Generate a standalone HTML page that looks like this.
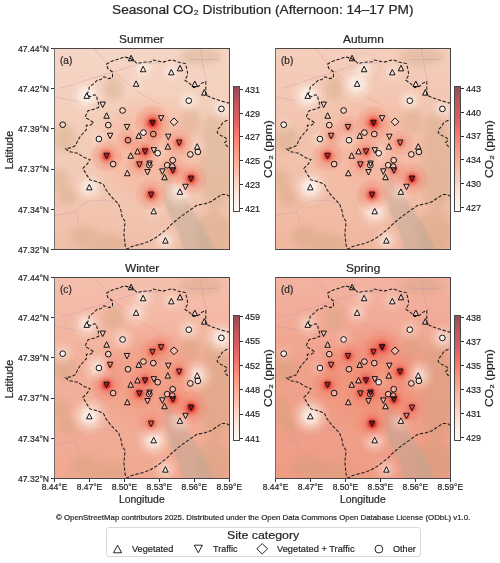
<!DOCTYPE html><html><head><meta charset="utf-8"><style>
html,body{margin:0;padding:0;background:#fff;}body{width:500px;height:563px;position:relative;overflow:hidden;font-family:"Liberation Sans", sans-serif;color:#262626;}
.t{position:absolute;white-space:nowrap;line-height:1;filter:grayscale(1);-webkit-text-stroke:0.2px #262626;}
.ax{position:absolute;width:176px;height:202px;box-sizing:border-box;border:1px solid #474747;border-left-color:#707070;overflow:hidden;}
.ax svg{display:block}
.cb{position:absolute;width:7px;height:126px;box-sizing:border-box;border:1px solid #4a4a4a;background:linear-gradient(to top,rgb(255,248,244) 0.0%,rgb(254,233,224) 12.5%,rgb(253,207,189) 25.0%,rgb(253,179,156) 37.5%,rgb(252,151,128) 50.0%,rgb(244,118,107) 62.5%,rgb(219,93,97) 75.0%,rgb(192,87,91) 87.5%,rgb(149,76,86) 100.0%);}
.tk{position:absolute;background:#333;}
</style></head><body>
<svg width="0" height="0" style="position:absolute"><defs><filter id="bl3" x="-50%" y="-50%" width="200%" height="200%"><feGaussianBlur stdDeviation="3"/></filter><filter id="bl1" x="-20%" y="-20%" width="140%" height="140%"><feGaussianBlur stdDeviation="1.2"/></filter><g id="mapl"><g filter="url(#bl3)" fill="rgb(200,160,120)" opacity="0.32"><ellipse cx="160.5" cy="116.6" rx="17.0" ry="45.0"/><ellipse cx="158.5" cy="183.6" rx="18.0" ry="22.0"/><ellipse cx="12.5" cy="147.6" rx="9.0" ry="9.0"/><ellipse cx="29.5" cy="187.6" rx="14.0" ry="11.0"/><ellipse cx="9.5" cy="89.6" rx="11.0" ry="14.0"/><ellipse cx="58.5" cy="39.6" rx="10.0" ry="12.0"/><ellipse cx="145.5" cy="7.6" rx="22.0" ry="9.0"/><ellipse cx="50.5" cy="193.6" rx="22.0" ry="9.0"/><ellipse cx="135.5" cy="71.6" rx="10.0" ry="14.0"/><ellipse cx="159.5" cy="79.6" rx="12.0" ry="16.0"/><ellipse cx="5.5" cy="131.6" rx="8.0" ry="12.0"/></g><g fill="none" stroke="rgb(196,150,175)" stroke-width="1" opacity="0.4" stroke-linejoin="round"><path d="M-0.5 166.5 L20.1 163.0 L25.3 157.0 L33.9 151.9 L51.1 151.0 L64.9 155.3"/><path d="M20.1 163.0 L22.7 169.1 L23.6 174.2"/><path d="M-0.5 47.8 L16.7 51.2 L33.9 54.7 L45.5 57.6"/><path d="M27.0 32.3 L56.3 23.7 L71.8 18.5 L85.5 15.1 L105.5 13.6"/><path d="M5.5 39.2 L23.5 34.4 L39.1 28.4"/><path d="M133.5 10.6 L163.5 10.6"/><path d="M145.5 -0.4 L148.5 19.1 L151.5 31.6"/></g><path d="M39.1 -0.4 L56.3 20.3 L71.8 34.0 L85.5 44.4 L105.5 55.6" fill="none" stroke="rgb(236,140,130)" stroke-width="0.9" opacity="0.45"/><path d="M106.5 117.6 L113.5 119.6 L117.5 129.6 L125.5 143.6 L135.5 157.6 L145.5 172.6 L153.5 187.6 L160.5 203.6 L128.5 203.6 L123.5 184.6 L116.5 170.6 L110.5 157.6 L108.5 143.6 L107.5 129.6 Z" fill="rgb(178,168,152)" opacity="0.4" filter="url(#bl1)"/></g><g id="bnd" fill="none" stroke="#1e1e1e" stroke-width="1.05" stroke-dasharray="3.4 1.7"><path d="M174.8 54.3 L166.5 52.1 L157.5 49.1 L150.8 46.1 L150.8 38.6 L150.8 32.6 L147.0 34.1 L144.0 37.1 L138.8 38.6 L135.0 34.8 L129.8 31.1 L132.8 25.9 L132.0 20.6 L130.5 14.6 L123.0 13.1 L117.0 10.8 L108.0 13.1 L100.5 11.6 L98.3 11.0 L95.9 12.8 L87.5 13.4 L82.1 14.6 L79.1 11.6 L74.9 9.2 L69.5 8.0 L62.3 10.4 L55.1 12.8 L51.5 15.2 L52.7 19.4 L57.5 23.0 L57.5 28.4 L53.9 29.6 L49.1 27.8 L45.5 30.8 L42.7 30.8 L39.1 34.4 L34.3 38.0 L33.7 41.6 L31.9 45.8 L35.5 47.6 L39.1 45.8 L41.5 46.4 L42.1 50.0 L43.3 53.6 L43.7 58.3 L39.8 60.0 L33.1 61.7 L30.9 66.2 L30.3 68.4 L33.1 70.1 L36.5 72.3 L38.7 74.0 L35.3 76.2 L31.4 76.2 L31.4 80.7 L29.2 83.0 L25.3 87.4 L22.5 91.9 L20.8 96.4 L16.3 98.6 L10.7 99.8 L14.1 102.6 L19.7 103.7 L22.6 104.3 L29.7 108.7 L35.0 110.5 L32.4 114.9 L27.9 119.4 L31.5 125.6 L35.0 130.9 L42.1 132.7 L48.4 135.3 L51.0 140.7 L56.4 147.8 L63.5 154.9 L66.1 162.0 L67.1 167.8 L70.1 172.6 L69.5 178.6 L68.9 184.6 L69.5 190.6 L70.1 196.6 L71.9 200.2 L76.1 197.8 L82.1 196.0 L89.3 194.2 L95.3 191.8 L101.3 188.2 L106.1 184.6 L112.1 179.8 L116.9 175.0 L122.7 170.0 L129.9 164.6 L135.9 160.4 L141.9 156.2 L149.1 155.0 L156.3 152.6 L162.3 148.4 L167.1 145.4 L171.3 145.4 L174.9 147.8 L177.5 149.6"/><path d="M177.5 70.1 L174.4 70.8 L170.7 71.9 L167.5 74.0 L165.4 77.7 L162.7 80.4 L162.2 83.6 L164.3 85.7 L167.5 87.3 L170.7 88.9 L172.3 91.1 L169.6 93.7 L171.2 96.4 L173.4 98.5 L175.0 99.6 L177.5 100.6"/></g><g id="mkf" stroke="none" fill="rgba(252,238,230,0.4)"><path d="M76.10 6.25 L73.35 11.75 L78.85 11.75 Z" fill="inherit"/><path d="M88.10 17.25 L85.35 22.75 L90.85 22.75 Z" fill="inherit"/><path d="M81.10 31.85 L78.35 37.35 L83.85 37.35 Z" fill="inherit"/><path d="M31.70 43.85 L28.95 49.35 L34.45 49.35 Z" fill="inherit"/><path d="M47.70 58.55 L44.95 53.05 L50.45 53.05 Z" fill="inherit"/><circle cx="67.60" cy="61.50" r="2.85" fill="inherit"/><path d="M51.60 63.75 L48.85 69.25 L54.35 69.25 Z" fill="inherit"/><circle cx="7.70" cy="75.70" r="2.85" fill="inherit"/><circle cx="53.30" cy="76.10" r="2.85" fill="inherit"/><path d="M72.00 80.95 L69.25 75.45 L74.75 75.45 Z" fill="inherit"/><circle cx="43.90" cy="90.00" r="2.85" fill="inherit"/><path d="M55.10 89.75 L52.35 84.25 L57.85 84.25 Z" fill="inherit"/><circle cx="73.00" cy="91.20" r="2.85" fill="inherit"/><path d="M83.70 83.85 L80.95 89.35 L86.45 89.35 Z" fill="inherit"/><circle cx="88.40" cy="83.60" r="2.85" fill="inherit"/><path d="M116.30 20.35 L113.55 25.85 L119.05 25.85 Z" fill="inherit"/><path d="M125.00 16.35 L122.25 21.85 L127.75 21.85 Z" fill="inherit"/><path d="M139.80 32.05 L137.05 37.55 L142.55 37.55 Z" fill="inherit"/><path d="M149.30 40.65 L146.55 46.15 L152.05 46.15 Z" fill="inherit"/><circle cx="133.80" cy="51.70" r="2.85" fill="inherit"/><circle cx="166.40" cy="59.90" r="2.85" fill="inherit"/><path d="M106.10 72.15 L103.35 66.65 L108.85 66.65 Z" fill="inherit"/><path d="M119.00 68.90 L122.90 72.80 L119.00 76.70 L115.10 72.80 Z" fill="inherit"/><path d="M97.50 76.75 L94.75 71.25 L100.25 71.25 Z" fill="inherit"/><circle cx="98.30" cy="85.10" r="2.85" fill="inherit"/><path d="M113.30 90.65 L110.55 85.15 L116.05 85.15 Z" fill="inherit"/><path d="M124.20 96.55 L121.45 91.05 L126.95 91.05 Z" fill="inherit"/><path d="M112.80 94.65 L110.05 100.15 L115.55 100.15 Z" fill="inherit"/><path d="M142.20 94.65 L139.45 100.15 L144.95 100.15 Z" fill="inherit"/><circle cx="142.90" cy="102.90" r="2.85" fill="inherit"/><circle cx="135.30" cy="105.40" r="2.85" fill="inherit"/><path d="M82.50 99.45 L79.75 104.95 L85.25 104.95 Z" fill="inherit"/><path d="M90.10 105.35 L87.35 99.85 L92.85 99.85 Z" fill="inherit"/><path d="M98.80 104.15 L96.05 98.65 L101.55 98.65 Z" fill="inherit"/><circle cx="102.70" cy="104.20" r="2.85" fill="inherit"/><path d="M75.70 103.75 L72.95 109.25 L78.45 109.25 Z" fill="inherit"/><circle cx="117.70" cy="111.20" r="2.85" fill="inherit"/><path d="M84.40 118.35 L81.65 112.85 L87.15 112.85 Z" fill="inherit"/><path d="M94.50 117.55 L91.75 112.05 L97.25 112.05 Z" fill="inherit"/><circle cx="94.30" cy="116.20" r="2.85" fill="inherit"/><circle cx="112.20" cy="116.20" r="2.85" fill="inherit"/><circle cx="117.20" cy="117.60" r="2.85" fill="inherit"/><path d="M117.90 124.25 L115.15 118.75 L120.65 118.75 Z" fill="inherit"/><path d="M72.30 121.25 L69.55 126.75 L75.05 126.75 Z" fill="inherit"/><path d="M92.50 126.05 L89.75 120.55 L95.25 120.55 Z" fill="inherit"/><path d="M107.30 125.35 L104.55 119.85 L110.05 119.85 Z" fill="inherit"/><path d="M109.50 125.25 L106.75 130.75 L112.25 130.75 Z" fill="inherit"/><path d="M51.60 109.75 L48.85 104.25 L54.35 104.25 Z" fill="inherit"/><circle cx="58.10" cy="115.10" r="2.85" fill="inherit"/><path d="M34.30 135.35 L31.55 140.85 L37.05 140.85 Z" fill="inherit"/><path d="M136.00 132.55 L133.25 127.05 L138.75 127.05 Z" fill="inherit"/><path d="M130.50 140.75 L127.75 135.25 L133.25 135.25 Z" fill="inherit"/><path d="M124.90 139.85 L122.15 145.35 L127.65 145.35 Z" fill="inherit"/><path d="M96.10 148.55 L93.35 143.05 L98.85 143.05 Z" fill="inherit"/><path d="M98.70 159.35 L95.95 164.85 L101.45 164.85 Z" fill="inherit"/><path d="M110.40 188.65 L107.65 194.15 L113.15 194.15 Z" fill="inherit"/></g><g id="mk" stroke="#111" stroke-width="1.0" stroke-linejoin="miter" fill="none"><path d="M76.10 6.25 L73.35 11.75 L78.85 11.75 Z" fill="none"/><path d="M88.10 17.25 L85.35 22.75 L90.85 22.75 Z" fill="none"/><path d="M81.10 31.85 L78.35 37.35 L83.85 37.35 Z" fill="none"/><path d="M31.70 43.85 L28.95 49.35 L34.45 49.35 Z" fill="none"/><path d="M47.70 58.55 L44.95 53.05 L50.45 53.05 Z" fill="none"/><circle cx="67.60" cy="61.50" r="2.85" fill="none"/><path d="M51.60 63.75 L48.85 69.25 L54.35 69.25 Z" fill="none"/><circle cx="7.70" cy="75.70" r="2.85" fill="none"/><circle cx="53.30" cy="76.10" r="2.85" fill="none"/><path d="M72.00 80.95 L69.25 75.45 L74.75 75.45 Z" fill="none"/><circle cx="43.90" cy="90.00" r="2.85" fill="none"/><path d="M55.10 89.75 L52.35 84.25 L57.85 84.25 Z" fill="none"/><circle cx="73.00" cy="91.20" r="2.85" fill="none"/><path d="M83.70 83.85 L80.95 89.35 L86.45 89.35 Z" fill="none"/><circle cx="88.40" cy="83.60" r="2.85" fill="none"/><path d="M116.30 20.35 L113.55 25.85 L119.05 25.85 Z" fill="none"/><path d="M125.00 16.35 L122.25 21.85 L127.75 21.85 Z" fill="none"/><path d="M139.80 32.05 L137.05 37.55 L142.55 37.55 Z" fill="none"/><path d="M149.30 40.65 L146.55 46.15 L152.05 46.15 Z" fill="none"/><circle cx="133.80" cy="51.70" r="2.85" fill="none"/><circle cx="166.40" cy="59.90" r="2.85" fill="none"/><path d="M106.10 72.15 L103.35 66.65 L108.85 66.65 Z" fill="none"/><path d="M119.00 68.90 L122.90 72.80 L119.00 76.70 L115.10 72.80 Z" fill="none"/><path d="M97.50 76.75 L94.75 71.25 L100.25 71.25 Z" fill="none"/><circle cx="98.30" cy="85.10" r="2.85" fill="none"/><path d="M113.30 90.65 L110.55 85.15 L116.05 85.15 Z" fill="none"/><path d="M124.20 96.55 L121.45 91.05 L126.95 91.05 Z" fill="none"/><path d="M112.80 94.65 L110.05 100.15 L115.55 100.15 Z" fill="none"/><path d="M142.20 94.65 L139.45 100.15 L144.95 100.15 Z" fill="none"/><circle cx="142.90" cy="102.90" r="2.85" fill="none"/><circle cx="135.30" cy="105.40" r="2.85" fill="none"/><path d="M82.50 99.45 L79.75 104.95 L85.25 104.95 Z" fill="none"/><path d="M90.10 105.35 L87.35 99.85 L92.85 99.85 Z" fill="none"/><path d="M98.80 104.15 L96.05 98.65 L101.55 98.65 Z" fill="none"/><circle cx="102.70" cy="104.20" r="2.85" fill="none"/><path d="M75.70 103.75 L72.95 109.25 L78.45 109.25 Z" fill="none"/><circle cx="117.70" cy="111.20" r="2.85" fill="none"/><path d="M84.40 118.35 L81.65 112.85 L87.15 112.85 Z" fill="none"/><path d="M94.50 117.55 L91.75 112.05 L97.25 112.05 Z" fill="none"/><circle cx="94.30" cy="116.20" r="2.85" fill="none"/><circle cx="112.20" cy="116.20" r="2.85" fill="none"/><circle cx="117.20" cy="117.60" r="2.85" fill="none"/><path d="M117.90 124.25 L115.15 118.75 L120.65 118.75 Z" fill="none"/><path d="M72.30 121.25 L69.55 126.75 L75.05 126.75 Z" fill="none"/><path d="M92.50 126.05 L89.75 120.55 L95.25 120.55 Z" fill="none"/><path d="M107.30 125.35 L104.55 119.85 L110.05 119.85 Z" fill="none"/><path d="M109.50 125.25 L106.75 130.75 L112.25 130.75 Z" fill="none"/><path d="M51.60 109.75 L48.85 104.25 L54.35 104.25 Z" fill="none"/><circle cx="58.10" cy="115.10" r="2.85" fill="none"/><path d="M34.30 135.35 L31.55 140.85 L37.05 140.85 Z" fill="none"/><path d="M136.00 132.55 L133.25 127.05 L138.75 127.05 Z" fill="none"/><path d="M130.50 140.75 L127.75 135.25 L133.25 135.25 Z" fill="none"/><path d="M124.90 139.85 L122.15 145.35 L127.65 145.35 Z" fill="none"/><path d="M96.10 148.55 L93.35 143.05 L98.85 143.05 Z" fill="none"/><path d="M98.70 159.35 L95.95 164.85 L101.45 164.85 Z" fill="none"/><path d="M110.40 188.65 L107.65 194.15 L113.15 194.15 Z" fill="none"/></g></defs></svg>
<div id="title" class="t" style="left:112.08px;top:4.00px;font-size:12.30px;transform:scaleX(1.114);transform-origin:0 0;">Seasonal CO₂ Distribution (Afternoon: 14–17 PM)</div>
<div class="ax" style="left:54px;top:48px"><svg width="174" height="200" viewBox="0 0 174 200" style="position:absolute;left:0;top:0"><defs><linearGradient id="vga" x1="0" y1="0" x2="0" y2="1"><stop offset="0" stop-color="#fff" stop-opacity="0.2"/><stop offset="0.45" stop-color="#fff" stop-opacity="0"/><stop offset="0.55" stop-color="rgb(235,135,105)" stop-opacity="0"/><stop offset="1" stop-color="rgb(235,135,105)" stop-opacity="0.2"/></linearGradient><radialGradient id="ctra"><stop offset="0" stop-color="rgb(246,178,152)" stop-opacity="0.9"/><stop offset="0.55" stop-color="rgb(246,178,152)" stop-opacity="0.55"/><stop offset="1" stop-color="rgb(246,178,152)" stop-opacity="0"/></radialGradient><radialGradient id="ca0"><stop offset="0" stop-color="#fffaf6" stop-opacity="0.95"/><stop offset="0.3" stop-color="#fcf0e8" stop-opacity="0.78"/><stop offset="0.6" stop-color="#f8e2d5" stop-opacity="0.42"/><stop offset="0.82" stop-color="#f6d8c8" stop-opacity="0.15"/><stop offset="1" stop-color="#f5d0bd" stop-opacity="0"/></radialGradient><radialGradient id="ca1"><stop offset="0" stop-color="#fffaf6" stop-opacity="0.82"/><stop offset="0.3" stop-color="#fcf0e8" stop-opacity="0.62"/><stop offset="0.6" stop-color="#f8e2d5" stop-opacity="0.34"/><stop offset="0.82" stop-color="#f6d8c8" stop-opacity="0.12"/><stop offset="1" stop-color="#f5d0bd" stop-opacity="0"/></radialGradient><radialGradient id="ca2"><stop offset="0" stop-color="#fffaf6" stop-opacity="0.82"/><stop offset="0.3" stop-color="#fcf0e8" stop-opacity="0.62"/><stop offset="0.6" stop-color="#f8e2d5" stop-opacity="0.34"/><stop offset="0.82" stop-color="#f6d8c8" stop-opacity="0.12"/><stop offset="1" stop-color="#f5d0bd" stop-opacity="0"/></radialGradient><radialGradient id="ca3"><stop offset="0" stop-color="#fffaf6" stop-opacity="0.69"/><stop offset="0.3" stop-color="#fcf0e8" stop-opacity="0.47"/><stop offset="0.6" stop-color="#f8e2d5" stop-opacity="0.25"/><stop offset="0.82" stop-color="#f6d8c8" stop-opacity="0.09"/><stop offset="1" stop-color="#f5d0bd" stop-opacity="0"/></radialGradient><radialGradient id="ca4"><stop offset="0" stop-color="#fffaf6" stop-opacity="0.69"/><stop offset="0.3" stop-color="#fcf0e8" stop-opacity="0.47"/><stop offset="0.6" stop-color="#f8e2d5" stop-opacity="0.25"/><stop offset="0.82" stop-color="#f6d8c8" stop-opacity="0.09"/><stop offset="1" stop-color="#f5d0bd" stop-opacity="0"/></radialGradient><radialGradient id="ca5"><stop offset="0" stop-color="#fffaf6" stop-opacity="0.69"/><stop offset="0.3" stop-color="#fcf0e8" stop-opacity="0.47"/><stop offset="0.6" stop-color="#f8e2d5" stop-opacity="0.25"/><stop offset="0.82" stop-color="#f6d8c8" stop-opacity="0.09"/><stop offset="1" stop-color="#f5d0bd" stop-opacity="0"/></radialGradient><radialGradient id="ca6"><stop offset="0" stop-color="#fffaf6" stop-opacity="0.62"/><stop offset="0.3" stop-color="#fcf0e8" stop-opacity="0.39"/><stop offset="0.6" stop-color="#f8e2d5" stop-opacity="0.21"/><stop offset="0.82" stop-color="#f6d8c8" stop-opacity="0.07"/><stop offset="1" stop-color="#f5d0bd" stop-opacity="0"/></radialGradient><radialGradient id="ca7"><stop offset="0" stop-color="#fffaf6" stop-opacity="0.69"/><stop offset="0.3" stop-color="#fcf0e8" stop-opacity="0.47"/><stop offset="0.6" stop-color="#f8e2d5" stop-opacity="0.25"/><stop offset="0.82" stop-color="#f6d8c8" stop-opacity="0.09"/><stop offset="1" stop-color="#f5d0bd" stop-opacity="0"/></radialGradient><radialGradient id="ca8"><stop offset="0" stop-color="#fffaf6" stop-opacity="0.56"/><stop offset="0.3" stop-color="#fcf0e8" stop-opacity="0.31"/><stop offset="0.6" stop-color="#f8e2d5" stop-opacity="0.17"/><stop offset="0.82" stop-color="#f6d8c8" stop-opacity="0.06"/><stop offset="1" stop-color="#f5d0bd" stop-opacity="0"/></radialGradient><radialGradient id="ca9"><stop offset="0" stop-color="#fffaf6" stop-opacity="0.53"/><stop offset="0.3" stop-color="#fcf0e8" stop-opacity="0.27"/><stop offset="0.6" stop-color="#f8e2d5" stop-opacity="0.15"/><stop offset="0.82" stop-color="#f6d8c8" stop-opacity="0.05"/><stop offset="1" stop-color="#f5d0bd" stop-opacity="0"/></radialGradient><radialGradient id="ca10"><stop offset="0" stop-color="#fffaf6" stop-opacity="0.53"/><stop offset="0.3" stop-color="#fcf0e8" stop-opacity="0.27"/><stop offset="0.6" stop-color="#f8e2d5" stop-opacity="0.15"/><stop offset="0.82" stop-color="#f6d8c8" stop-opacity="0.05"/><stop offset="1" stop-color="#f5d0bd" stop-opacity="0"/></radialGradient><radialGradient id="ca11"><stop offset="0" stop-color="#fffaf6" stop-opacity="0.53"/><stop offset="0.3" stop-color="#fcf0e8" stop-opacity="0.27"/><stop offset="0.6" stop-color="#f8e2d5" stop-opacity="0.15"/><stop offset="0.82" stop-color="#f6d8c8" stop-opacity="0.05"/><stop offset="1" stop-color="#f5d0bd" stop-opacity="0"/></radialGradient><radialGradient id="ca12"><stop offset="0" stop-color="#fffaf6" stop-opacity="0.49"/><stop offset="0.3" stop-color="#fcf0e8" stop-opacity="0.23"/><stop offset="0.6" stop-color="#f8e2d5" stop-opacity="0.13"/><stop offset="0.82" stop-color="#f6d8c8" stop-opacity="0.04"/><stop offset="1" stop-color="#f5d0bd" stop-opacity="0"/></radialGradient><radialGradient id="ca13"><stop offset="0" stop-color="#fffaf6" stop-opacity="0.49"/><stop offset="0.3" stop-color="#fcf0e8" stop-opacity="0.23"/><stop offset="0.6" stop-color="#f8e2d5" stop-opacity="0.13"/><stop offset="0.82" stop-color="#f6d8c8" stop-opacity="0.04"/><stop offset="1" stop-color="#f5d0bd" stop-opacity="0"/></radialGradient><radialGradient id="ha0h"><stop offset="0" stop-color="rgb(238,105,85)" stop-opacity="0.67"/><stop offset="0.5" stop-color="rgb(240,125,105)" stop-opacity="0.41"/><stop offset="0.8" stop-color="rgb(242,140,118)" stop-opacity="0.17"/><stop offset="1" stop-color="rgb(242,150,128)" stop-opacity="0"/></radialGradient><radialGradient id="ha0"><stop offset="0" stop-color="rgb(160,10,20)" stop-opacity="1"/><stop offset="0.3" stop-color="rgb(222,42,38)" stop-opacity="1.00"/><stop offset="0.6" stop-color="rgb(238,100,80)" stop-opacity="0.50"/><stop offset="1" stop-color="rgb(240,125,105)" stop-opacity="0"/></radialGradient><radialGradient id="ha1h"><stop offset="0" stop-color="rgb(238,105,85)" stop-opacity="0.53"/><stop offset="0.5" stop-color="rgb(240,125,105)" stop-opacity="0.32"/><stop offset="0.8" stop-color="rgb(242,140,118)" stop-opacity="0.14"/><stop offset="1" stop-color="rgb(242,150,128)" stop-opacity="0"/></radialGradient><radialGradient id="ha1"><stop offset="0" stop-color="rgb(178,26,30)" stop-opacity="1"/><stop offset="0.3" stop-color="rgb(226,55,47)" stop-opacity="0.91"/><stop offset="0.6" stop-color="rgb(238,100,80)" stop-opacity="0.42"/><stop offset="1" stop-color="rgb(240,125,105)" stop-opacity="0"/></radialGradient><radialGradient id="ha2h"><stop offset="0" stop-color="rgb(238,105,85)" stop-opacity="0.51"/><stop offset="0.5" stop-color="rgb(240,125,105)" stop-opacity="0.30"/><stop offset="0.8" stop-color="rgb(242,140,118)" stop-opacity="0.13"/><stop offset="1" stop-color="rgb(242,150,128)" stop-opacity="0"/></radialGradient><radialGradient id="ha2"><stop offset="0" stop-color="rgb(182,30,32)" stop-opacity="1"/><stop offset="0.3" stop-color="rgb(227,58,49)" stop-opacity="0.90"/><stop offset="0.6" stop-color="rgb(238,100,80)" stop-opacity="0.41"/><stop offset="1" stop-color="rgb(240,125,105)" stop-opacity="0"/></radialGradient><radialGradient id="ha3h"><stop offset="0" stop-color="rgb(238,105,85)" stop-opacity="0.56"/><stop offset="0.5" stop-color="rgb(240,125,105)" stop-opacity="0.34"/><stop offset="0.8" stop-color="rgb(242,140,118)" stop-opacity="0.14"/><stop offset="1" stop-color="rgb(242,150,128)" stop-opacity="0"/></radialGradient><radialGradient id="ha3"><stop offset="0" stop-color="rgb(175,23,28)" stop-opacity="1"/><stop offset="0.3" stop-color="rgb(225,53,45)" stop-opacity="0.93"/><stop offset="0.6" stop-color="rgb(238,100,80)" stop-opacity="0.44"/><stop offset="1" stop-color="rgb(240,125,105)" stop-opacity="0"/></radialGradient><radialGradient id="ha4h"><stop offset="0" stop-color="rgb(238,105,85)" stop-opacity="0.51"/><stop offset="0.5" stop-color="rgb(240,125,105)" stop-opacity="0.30"/><stop offset="0.8" stop-color="rgb(242,140,118)" stop-opacity="0.13"/><stop offset="1" stop-color="rgb(242,150,128)" stop-opacity="0"/></radialGradient><radialGradient id="ha4"><stop offset="0" stop-color="rgb(182,30,32)" stop-opacity="1"/><stop offset="0.3" stop-color="rgb(227,58,49)" stop-opacity="0.90"/><stop offset="0.6" stop-color="rgb(238,100,80)" stop-opacity="0.41"/><stop offset="1" stop-color="rgb(240,125,105)" stop-opacity="0"/></radialGradient><radialGradient id="ha5h"><stop offset="0" stop-color="rgb(238,105,85)" stop-opacity="0.40"/><stop offset="0.5" stop-color="rgb(240,125,105)" stop-opacity="0.23"/><stop offset="0.8" stop-color="rgb(242,140,118)" stop-opacity="0.10"/><stop offset="1" stop-color="rgb(242,150,128)" stop-opacity="0"/></radialGradient><radialGradient id="ha5"><stop offset="0" stop-color="rgb(197,42,40)" stop-opacity="1"/><stop offset="0.3" stop-color="rgb(230,68,56)" stop-opacity="0.82"/><stop offset="0.6" stop-color="rgb(238,100,80)" stop-opacity="0.35"/><stop offset="1" stop-color="rgb(240,125,105)" stop-opacity="0"/></radialGradient><radialGradient id="ha6h"><stop offset="0" stop-color="rgb(238,105,85)" stop-opacity="0.40"/><stop offset="0.5" stop-color="rgb(240,125,105)" stop-opacity="0.23"/><stop offset="0.8" stop-color="rgb(242,140,118)" stop-opacity="0.10"/><stop offset="1" stop-color="rgb(242,150,128)" stop-opacity="0"/></radialGradient><radialGradient id="ha6"><stop offset="0" stop-color="rgb(197,42,40)" stop-opacity="1"/><stop offset="0.3" stop-color="rgb(230,68,56)" stop-opacity="0.82"/><stop offset="0.6" stop-color="rgb(238,100,80)" stop-opacity="0.35"/><stop offset="1" stop-color="rgb(240,125,105)" stop-opacity="0"/></radialGradient><radialGradient id="ha7h"><stop offset="0" stop-color="rgb(238,105,85)" stop-opacity="0.31"/><stop offset="0.5" stop-color="rgb(240,125,105)" stop-opacity="0.18"/><stop offset="0.8" stop-color="rgb(242,140,118)" stop-opacity="0.08"/><stop offset="1" stop-color="rgb(242,150,128)" stop-opacity="0"/></radialGradient><radialGradient id="ha7"><stop offset="0" stop-color="rgb(208,52,46)" stop-opacity="1"/><stop offset="0.3" stop-color="rgb(232,76,62)" stop-opacity="0.77"/><stop offset="0.6" stop-color="rgb(238,100,80)" stop-opacity="0.30"/><stop offset="1" stop-color="rgb(240,125,105)" stop-opacity="0"/></radialGradient><radialGradient id="ha8h"><stop offset="0" stop-color="rgb(238,105,85)" stop-opacity="0.23"/><stop offset="0.5" stop-color="rgb(240,125,105)" stop-opacity="0.13"/><stop offset="0.8" stop-color="rgb(242,140,118)" stop-opacity="0.06"/><stop offset="1" stop-color="rgb(242,150,128)" stop-opacity="0"/></radialGradient><radialGradient id="ha8"><stop offset="0" stop-color="rgb(219,62,52)" stop-opacity="1"/><stop offset="0.3" stop-color="rgb(235,84,68)" stop-opacity="0.72"/><stop offset="0.6" stop-color="rgb(238,100,80)" stop-opacity="0.26"/><stop offset="1" stop-color="rgb(240,125,105)" stop-opacity="0"/></radialGradient><radialGradient id="ha9h"><stop offset="0" stop-color="rgb(238,105,85)" stop-opacity="0.19"/><stop offset="0.5" stop-color="rgb(240,125,105)" stop-opacity="0.10"/><stop offset="0.8" stop-color="rgb(242,140,118)" stop-opacity="0.05"/><stop offset="1" stop-color="rgb(242,150,128)" stop-opacity="0"/></radialGradient><radialGradient id="ha9"><stop offset="0" stop-color="rgb(225,67,55)" stop-opacity="1"/><stop offset="0.3" stop-color="rgb(236,89,71)" stop-opacity="0.69"/><stop offset="0.6" stop-color="rgb(238,100,80)" stop-opacity="0.24"/><stop offset="1" stop-color="rgb(240,125,105)" stop-opacity="0"/></radialGradient></defs><rect x="-2" y="-2" width="180" height="205" fill="rgb(243,204,184)"/><rect x="-2" y="-2" width="180" height="205" fill="url(#vga)"/><use href="#mapl"/><ellipse cx="95.5" cy="101.6" rx="62" ry="58" fill="url(#ctra)"/><circle cx="31.7" cy="46.6" r="21.0" fill="url(#ca0)"/><circle cx="31.7" cy="46.6" r="11.6" fill="none" stroke="rgb(238,160,140)" stroke-width="0.5" stroke-opacity="0.25"/><circle cx="31.7" cy="46.6" r="15.8" fill="none" stroke="rgb(238,160,140)" stroke-width="0.5" stroke-opacity="0.25"/><circle cx="31.7" cy="46.6" r="19.9" fill="none" stroke="rgb(238,160,140)" stroke-width="0.5" stroke-opacity="0.25"/><circle cx="34.3" cy="138.1" r="18.8" fill="url(#ca1)"/><circle cx="34.3" cy="138.1" r="10.3" fill="none" stroke="rgb(238,160,140)" stroke-width="0.5" stroke-opacity="0.22"/><circle cx="34.3" cy="138.1" r="14.1" fill="none" stroke="rgb(238,160,140)" stroke-width="0.5" stroke-opacity="0.22"/><circle cx="34.3" cy="138.1" r="17.9" fill="none" stroke="rgb(238,160,140)" stroke-width="0.5" stroke-opacity="0.22"/><circle cx="124.9" cy="142.6" r="18.8" fill="url(#ca2)"/><circle cx="124.9" cy="142.6" r="10.3" fill="none" stroke="rgb(238,160,140)" stroke-width="0.5" stroke-opacity="0.22"/><circle cx="124.9" cy="142.6" r="14.1" fill="none" stroke="rgb(238,160,140)" stroke-width="0.5" stroke-opacity="0.22"/><circle cx="124.9" cy="142.6" r="17.9" fill="none" stroke="rgb(238,160,140)" stroke-width="0.5" stroke-opacity="0.22"/><circle cx="133.8" cy="51.7" r="16.6" fill="url(#ca3)"/><circle cx="133.8" cy="51.7" r="9.1" fill="none" stroke="rgb(238,160,140)" stroke-width="0.5" stroke-opacity="0.19"/><circle cx="133.8" cy="51.7" r="12.5" fill="none" stroke="rgb(238,160,140)" stroke-width="0.5" stroke-opacity="0.19"/><circle cx="133.8" cy="51.7" r="15.8" fill="none" stroke="rgb(238,160,140)" stroke-width="0.5" stroke-opacity="0.19"/><circle cx="166.4" cy="59.9" r="16.6" fill="url(#ca4)"/><circle cx="166.4" cy="59.9" r="9.1" fill="none" stroke="rgb(238,160,140)" stroke-width="0.5" stroke-opacity="0.19"/><circle cx="166.4" cy="59.9" r="12.5" fill="none" stroke="rgb(238,160,140)" stroke-width="0.5" stroke-opacity="0.19"/><circle cx="166.4" cy="59.9" r="15.8" fill="none" stroke="rgb(238,160,140)" stroke-width="0.5" stroke-opacity="0.19"/><circle cx="88.1" cy="20.0" r="16.6" fill="url(#ca5)"/><circle cx="88.1" cy="20.0" r="9.1" fill="none" stroke="rgb(238,160,140)" stroke-width="0.5" stroke-opacity="0.19"/><circle cx="88.1" cy="20.0" r="12.5" fill="none" stroke="rgb(238,160,140)" stroke-width="0.5" stroke-opacity="0.19"/><circle cx="88.1" cy="20.0" r="15.8" fill="none" stroke="rgb(238,160,140)" stroke-width="0.5" stroke-opacity="0.19"/><circle cx="116.3" cy="23.1" r="15.5" fill="url(#ca6)"/><circle cx="116.3" cy="23.1" r="8.5" fill="none" stroke="rgb(238,160,140)" stroke-width="0.5" stroke-opacity="0.17"/><circle cx="116.3" cy="23.1" r="11.6" fill="none" stroke="rgb(238,160,140)" stroke-width="0.5" stroke-opacity="0.17"/><circle cx="116.3" cy="23.1" r="14.7" fill="none" stroke="rgb(238,160,140)" stroke-width="0.5" stroke-opacity="0.17"/><circle cx="110.4" cy="191.4" r="16.6" fill="url(#ca7)"/><circle cx="110.4" cy="191.4" r="9.1" fill="none" stroke="rgb(238,160,140)" stroke-width="0.5" stroke-opacity="0.19"/><circle cx="110.4" cy="191.4" r="12.5" fill="none" stroke="rgb(238,160,140)" stroke-width="0.5" stroke-opacity="0.19"/><circle cx="110.4" cy="191.4" r="15.8" fill="none" stroke="rgb(238,160,140)" stroke-width="0.5" stroke-opacity="0.19"/><circle cx="102.7" cy="104.2" r="14.4" fill="url(#ca8)"/><circle cx="102.7" cy="104.2" r="7.9" fill="none" stroke="rgb(238,160,140)" stroke-width="0.5" stroke-opacity="0.16"/><circle cx="102.7" cy="104.2" r="10.8" fill="none" stroke="rgb(238,160,140)" stroke-width="0.5" stroke-opacity="0.16"/><circle cx="102.7" cy="104.2" r="13.7" fill="none" stroke="rgb(238,160,140)" stroke-width="0.5" stroke-opacity="0.16"/><circle cx="88.4" cy="83.6" r="13.8" fill="url(#ca9)"/><circle cx="43.9" cy="90.0" r="13.8" fill="url(#ca10)"/><circle cx="142.2" cy="97.4" r="13.8" fill="url(#ca11)"/><circle cx="81.1" cy="34.6" r="13.3" fill="url(#ca12)"/><circle cx="98.7" cy="162.1" r="13.3" fill="url(#ca13)"/><circle cx="97.5" cy="74.0" r="19.0" fill="url(#ha0h)"/><circle cx="97.5" cy="74.0" r="6.5" fill="none" stroke="rgb(236,115,100)" stroke-width="0.55" stroke-opacity="0.37"/><circle cx="97.5" cy="74.0" r="8.9" fill="none" stroke="rgb(236,115,100)" stroke-width="0.55" stroke-opacity="0.37"/><circle cx="97.5" cy="74.0" r="11.4" fill="none" stroke="rgb(236,115,100)" stroke-width="0.55" stroke-opacity="0.37"/><circle cx="97.5" cy="74.0" r="13.9" fill="none" stroke="rgb(236,115,100)" stroke-width="0.55" stroke-opacity="0.37"/><circle cx="97.5" cy="74.0" r="16.3" fill="none" stroke="rgb(236,115,100)" stroke-width="0.55" stroke-opacity="0.37"/><circle cx="97.5" cy="74.0" r="10.5" fill="url(#ha0)"/><circle cx="51.6" cy="107.0" r="17.0" fill="url(#ha1h)"/><circle cx="51.6" cy="107.0" r="5.8" fill="none" stroke="rgb(236,115,100)" stroke-width="0.55" stroke-opacity="0.31"/><circle cx="51.6" cy="107.0" r="8.0" fill="none" stroke="rgb(236,115,100)" stroke-width="0.55" stroke-opacity="0.31"/><circle cx="51.6" cy="107.0" r="10.2" fill="none" stroke="rgb(236,115,100)" stroke-width="0.55" stroke-opacity="0.31"/><circle cx="51.6" cy="107.0" r="12.4" fill="none" stroke="rgb(236,115,100)" stroke-width="0.55" stroke-opacity="0.31"/><circle cx="51.6" cy="107.0" r="14.6" fill="none" stroke="rgb(236,115,100)" stroke-width="0.55" stroke-opacity="0.31"/><circle cx="51.6" cy="107.0" r="9.1" fill="url(#ha1)"/><circle cx="90.1" cy="102.6" r="16.6" fill="url(#ha2h)"/><circle cx="90.1" cy="102.6" r="5.6" fill="none" stroke="rgb(236,115,100)" stroke-width="0.55" stroke-opacity="0.29"/><circle cx="90.1" cy="102.6" r="7.8" fill="none" stroke="rgb(236,115,100)" stroke-width="0.55" stroke-opacity="0.29"/><circle cx="90.1" cy="102.6" r="10.0" fill="none" stroke="rgb(236,115,100)" stroke-width="0.55" stroke-opacity="0.29"/><circle cx="90.1" cy="102.6" r="12.1" fill="none" stroke="rgb(236,115,100)" stroke-width="0.55" stroke-opacity="0.29"/><circle cx="90.1" cy="102.6" r="14.3" fill="none" stroke="rgb(236,115,100)" stroke-width="0.55" stroke-opacity="0.29"/><circle cx="90.1" cy="102.6" r="8.8" fill="url(#ha2)"/><circle cx="136.0" cy="129.8" r="17.4" fill="url(#ha3h)"/><circle cx="136.0" cy="129.8" r="5.9" fill="none" stroke="rgb(236,115,100)" stroke-width="0.55" stroke-opacity="0.32"/><circle cx="136.0" cy="129.8" r="8.2" fill="none" stroke="rgb(236,115,100)" stroke-width="0.55" stroke-opacity="0.32"/><circle cx="136.0" cy="129.8" r="10.4" fill="none" stroke="rgb(236,115,100)" stroke-width="0.55" stroke-opacity="0.32"/><circle cx="136.0" cy="129.8" r="12.7" fill="none" stroke="rgb(236,115,100)" stroke-width="0.55" stroke-opacity="0.32"/><circle cx="136.0" cy="129.8" r="15.0" fill="none" stroke="rgb(236,115,100)" stroke-width="0.55" stroke-opacity="0.32"/><circle cx="136.0" cy="129.8" r="9.4" fill="url(#ha3)"/><circle cx="96.1" cy="145.8" r="16.6" fill="url(#ha4h)"/><circle cx="96.1" cy="145.8" r="5.6" fill="none" stroke="rgb(236,115,100)" stroke-width="0.55" stroke-opacity="0.29"/><circle cx="96.1" cy="145.8" r="7.8" fill="none" stroke="rgb(236,115,100)" stroke-width="0.55" stroke-opacity="0.29"/><circle cx="96.1" cy="145.8" r="10.0" fill="none" stroke="rgb(236,115,100)" stroke-width="0.55" stroke-opacity="0.29"/><circle cx="96.1" cy="145.8" r="12.1" fill="none" stroke="rgb(236,115,100)" stroke-width="0.55" stroke-opacity="0.29"/><circle cx="96.1" cy="145.8" r="14.3" fill="none" stroke="rgb(236,115,100)" stroke-width="0.55" stroke-opacity="0.29"/><circle cx="96.1" cy="145.8" r="8.8" fill="url(#ha4)"/><circle cx="124.2" cy="93.8" r="15.0" fill="url(#ha5h)"/><circle cx="124.2" cy="93.8" r="5.1" fill="none" stroke="rgb(236,115,100)" stroke-width="0.55" stroke-opacity="0.24"/><circle cx="124.2" cy="93.8" r="7.0" fill="none" stroke="rgb(236,115,100)" stroke-width="0.55" stroke-opacity="0.24"/><circle cx="124.2" cy="93.8" r="9.0" fill="none" stroke="rgb(236,115,100)" stroke-width="0.55" stroke-opacity="0.24"/><circle cx="124.2" cy="93.8" r="10.9" fill="none" stroke="rgb(236,115,100)" stroke-width="0.55" stroke-opacity="0.24"/><circle cx="124.2" cy="93.8" r="12.9" fill="none" stroke="rgb(236,115,100)" stroke-width="0.55" stroke-opacity="0.24"/><circle cx="124.2" cy="93.8" r="7.8" fill="url(#ha5)"/><circle cx="117.9" cy="121.5" r="15.0" fill="url(#ha6h)"/><circle cx="117.9" cy="121.5" r="5.1" fill="none" stroke="rgb(236,115,100)" stroke-width="0.55" stroke-opacity="0.24"/><circle cx="117.9" cy="121.5" r="7.0" fill="none" stroke="rgb(236,115,100)" stroke-width="0.55" stroke-opacity="0.24"/><circle cx="117.9" cy="121.5" r="9.0" fill="none" stroke="rgb(236,115,100)" stroke-width="0.55" stroke-opacity="0.24"/><circle cx="117.9" cy="121.5" r="10.9" fill="none" stroke="rgb(236,115,100)" stroke-width="0.55" stroke-opacity="0.24"/><circle cx="117.9" cy="121.5" r="12.9" fill="none" stroke="rgb(236,115,100)" stroke-width="0.55" stroke-opacity="0.24"/><circle cx="117.9" cy="121.5" r="7.8" fill="url(#ha6)"/><circle cx="84.4" cy="115.6" r="13.8" fill="url(#ha7h)"/><circle cx="84.4" cy="115.6" r="4.7" fill="none" stroke="rgb(236,115,100)" stroke-width="0.55" stroke-opacity="0.21"/><circle cx="84.4" cy="115.6" r="6.5" fill="none" stroke="rgb(236,115,100)" stroke-width="0.55" stroke-opacity="0.21"/><circle cx="84.4" cy="115.6" r="8.3" fill="none" stroke="rgb(236,115,100)" stroke-width="0.55" stroke-opacity="0.21"/><circle cx="84.4" cy="115.6" r="10.1" fill="none" stroke="rgb(236,115,100)" stroke-width="0.55" stroke-opacity="0.21"/><circle cx="84.4" cy="115.6" r="11.9" fill="none" stroke="rgb(236,115,100)" stroke-width="0.55" stroke-opacity="0.21"/><circle cx="84.4" cy="115.6" r="6.9" fill="url(#ha7)"/><circle cx="73.0" cy="91.2" r="12.6" fill="url(#ha8h)"/><circle cx="73.0" cy="91.2" r="4.3" fill="none" stroke="rgb(236,115,100)" stroke-width="0.55" stroke-opacity="0.17"/><circle cx="73.0" cy="91.2" r="5.9" fill="none" stroke="rgb(236,115,100)" stroke-width="0.55" stroke-opacity="0.17"/><circle cx="73.0" cy="91.2" r="7.6" fill="none" stroke="rgb(236,115,100)" stroke-width="0.55" stroke-opacity="0.17"/><circle cx="73.0" cy="91.2" r="9.2" fill="none" stroke="rgb(236,115,100)" stroke-width="0.55" stroke-opacity="0.17"/><circle cx="73.0" cy="91.2" r="10.8" fill="none" stroke="rgb(236,115,100)" stroke-width="0.55" stroke-opacity="0.17"/><circle cx="73.0" cy="91.2" r="6.1" fill="url(#ha8)"/><circle cx="98.3" cy="85.1" r="12.0" fill="url(#ha9h)"/><circle cx="98.3" cy="85.1" r="4.1" fill="none" stroke="rgb(236,115,100)" stroke-width="0.55" stroke-opacity="0.15"/><circle cx="98.3" cy="85.1" r="5.6" fill="none" stroke="rgb(236,115,100)" stroke-width="0.55" stroke-opacity="0.15"/><circle cx="98.3" cy="85.1" r="7.2" fill="none" stroke="rgb(236,115,100)" stroke-width="0.55" stroke-opacity="0.15"/><circle cx="98.3" cy="85.1" r="8.7" fill="none" stroke="rgb(236,115,100)" stroke-width="0.55" stroke-opacity="0.15"/><circle cx="98.3" cy="85.1" r="10.3" fill="none" stroke="rgb(236,115,100)" stroke-width="0.55" stroke-opacity="0.15"/><circle cx="98.3" cy="85.1" r="5.7" fill="url(#ha9)"/><use href="#mkf"/><path stroke="none" d="M97.50 76.75 L94.75 71.25 L100.25 71.25 Z" fill="rgb(130,15,25)"/><path stroke="none" d="M51.60 109.75 L48.85 104.25 L54.35 104.25 Z" fill="rgb(183,34,38)"/><path stroke="none" d="M90.10 105.35 L87.35 99.85 L92.85 99.85 Z" fill="rgb(194,38,40)"/><path stroke="none" d="M136.00 132.55 L133.25 127.05 L138.75 127.05 Z" fill="rgb(172,30,35)"/><path stroke="none" d="M96.10 148.55 L93.35 143.05 L98.85 143.05 Z" fill="rgb(194,38,40)"/><path stroke="none" d="M124.20 96.55 L121.45 91.05 L126.95 91.05 Z" fill="rgb(223,77,69)"/><path stroke="none" d="M117.90 124.25 L115.15 118.75 L120.65 118.75 Z" fill="rgb(223,77,69)"/><path stroke="none" d="M84.40 118.35 L81.65 112.85 L87.15 112.85 Z" fill="rgb(231,114,98)"/><circle stroke="none" cx="73.00" cy="91.20" r="2.85" fill="rgb(237,138,116)"/><circle stroke="none" cx="98.30" cy="85.10" r="2.85" fill="rgb(239,146,122)"/><path stroke="none" d="M31.70 43.85 L28.95 49.35 L34.45 49.35 Z" fill="rgb(255,252,250)"/><path stroke="none" d="M34.30 135.35 L31.55 140.85 L37.05 140.85 Z" fill="rgb(254,247,242)"/><path stroke="none" d="M124.90 139.85 L122.15 145.35 L127.65 145.35 Z" fill="rgb(254,247,242)"/><circle stroke="none" cx="133.80" cy="51.70" r="2.85" fill="rgb(252,241,234)"/><circle stroke="none" cx="166.40" cy="59.90" r="2.85" fill="rgb(252,241,234)"/><path stroke="none" d="M88.10 17.25 L85.35 22.75 L90.85 22.75 Z" fill="rgb(252,241,234)"/><path stroke="none" d="M116.30 20.35 L113.55 25.85 L119.05 25.85 Z" fill="rgb(252,238,230)"/><path stroke="none" d="M110.40 188.65 L107.65 194.15 L113.15 194.15 Z" fill="rgb(252,241,234)"/><circle stroke="none" cx="102.70" cy="104.20" r="2.85" fill="rgb(251,236,226)"/><circle stroke="none" cx="88.40" cy="83.60" r="2.85" fill="rgb(250,234,224)"/><circle stroke="none" cx="43.90" cy="90.00" r="2.85" fill="rgb(250,234,224)"/><path stroke="none" d="M142.20 94.65 L139.45 100.15 L144.95 100.15 Z" fill="rgb(250,234,224)"/><path stroke="none" d="M81.10 31.85 L78.35 37.35 L83.85 37.35 Z" fill="rgb(250,233,222)"/><path stroke="none" d="M98.70 159.35 L95.95 164.85 L101.45 164.85 Z" fill="rgb(250,233,222)"/><use href="#bnd"/><use href="#mk"/></svg></div>
<div id="laba" class="t" style="left:60.09px;top:56.00px;font-size:10.00px;transform:scaleX(1.010);transform-origin:0 0;">(a)</div>
<div id="ttla" class="t" style="left:119.01px;top:35.00px;font-size:10.40px;transform:scaleX(1.140);transform-origin:0 0;">Summer</div>
<div class="cb" style="left:233px;top:86px"></div>
<div class="tk" style="left:240px;top:88.9px;width:3px;height:1px"></div>
<div id="cba0" class="t" style="left:245.42px;top:85.00px;font-size:9.60px;transform:scaleX(0.940);transform-origin:0 0;">431</div>
<div class="tk" style="left:240px;top:112.7px;width:3px;height:1px"></div>
<div id="cba1" class="t" style="left:245.42px;top:109.00px;font-size:9.60px;transform:scaleX(0.940);transform-origin:0 0;">429</div>
<div class="tk" style="left:240px;top:136.4px;width:3px;height:1px"></div>
<div id="cba2" class="t" style="left:245.42px;top:132.00px;font-size:9.60px;transform:scaleX(0.940);transform-origin:0 0;">427</div>
<div class="tk" style="left:240px;top:160.2px;width:3px;height:1px"></div>
<div id="cba3" class="t" style="left:245.42px;top:156.00px;font-size:9.60px;transform:scaleX(0.940);transform-origin:0 0;">425</div>
<div class="tk" style="left:240px;top:183.9px;width:3px;height:1px"></div>
<div id="cba4" class="t" style="left:245.42px;top:180.00px;font-size:9.60px;transform:scaleX(0.940);transform-origin:0 0;">423</div>
<div class="tk" style="left:240px;top:207.7px;width:3px;height:1px"></div>
<div id="cba5" class="t" style="left:245.42px;top:204.00px;font-size:9.60px;transform:scaleX(0.940);transform-origin:0 0;">421</div>
<div style="position:absolute;left:271.70px;top:148.90px;width:0;height:0;transform:rotate(-90deg);"><div id="cbla" class="t" style="left:-28.91px;top:-9.09px;font-size:10.70px;transform:scaleX(1.133);transform-origin:0 0;">CO₂ (ppm)</div></div>
<div class="ax" style="left:275px;top:48px"><svg width="174" height="200" viewBox="0 0 174 200" style="position:absolute;left:0;top:0"><defs><linearGradient id="vgb" x1="0" y1="0" x2="0" y2="1"><stop offset="0" stop-color="#fff" stop-opacity="0.2"/><stop offset="0.45" stop-color="#fff" stop-opacity="0"/><stop offset="0.55" stop-color="rgb(235,135,105)" stop-opacity="0"/><stop offset="1" stop-color="rgb(235,135,105)" stop-opacity="0.2"/></linearGradient><radialGradient id="ctrb"><stop offset="0" stop-color="rgb(246,180,158)" stop-opacity="0.9"/><stop offset="0.55" stop-color="rgb(246,180,158)" stop-opacity="0.55"/><stop offset="1" stop-color="rgb(246,180,158)" stop-opacity="0"/></radialGradient><radialGradient id="cb0"><stop offset="0" stop-color="#fffaf6" stop-opacity="0.95"/><stop offset="0.3" stop-color="#fcf0e8" stop-opacity="0.78"/><stop offset="0.6" stop-color="#f8e2d5" stop-opacity="0.42"/><stop offset="0.82" stop-color="#f6d8c8" stop-opacity="0.15"/><stop offset="1" stop-color="#f5d0bd" stop-opacity="0"/></radialGradient><radialGradient id="cb1"><stop offset="0" stop-color="#fffaf6" stop-opacity="0.95"/><stop offset="0.3" stop-color="#fcf0e8" stop-opacity="0.78"/><stop offset="0.6" stop-color="#f8e2d5" stop-opacity="0.42"/><stop offset="0.82" stop-color="#f6d8c8" stop-opacity="0.15"/><stop offset="1" stop-color="#f5d0bd" stop-opacity="0"/></radialGradient><radialGradient id="cb2"><stop offset="0" stop-color="#fffaf6" stop-opacity="0.95"/><stop offset="0.3" stop-color="#fcf0e8" stop-opacity="0.78"/><stop offset="0.6" stop-color="#f8e2d5" stop-opacity="0.42"/><stop offset="0.82" stop-color="#f6d8c8" stop-opacity="0.15"/><stop offset="1" stop-color="#f5d0bd" stop-opacity="0"/></radialGradient><radialGradient id="cb3"><stop offset="0" stop-color="#fffaf6" stop-opacity="0.89"/><stop offset="0.3" stop-color="#fcf0e8" stop-opacity="0.70"/><stop offset="0.6" stop-color="#f8e2d5" stop-opacity="0.38"/><stop offset="0.82" stop-color="#f6d8c8" stop-opacity="0.14"/><stop offset="1" stop-color="#f5d0bd" stop-opacity="0"/></radialGradient><radialGradient id="cb4"><stop offset="0" stop-color="#fffaf6" stop-opacity="0.69"/><stop offset="0.3" stop-color="#fcf0e8" stop-opacity="0.47"/><stop offset="0.6" stop-color="#f8e2d5" stop-opacity="0.25"/><stop offset="0.82" stop-color="#f6d8c8" stop-opacity="0.09"/><stop offset="1" stop-color="#f5d0bd" stop-opacity="0"/></radialGradient><radialGradient id="cb5"><stop offset="0" stop-color="#fffaf6" stop-opacity="0.69"/><stop offset="0.3" stop-color="#fcf0e8" stop-opacity="0.47"/><stop offset="0.6" stop-color="#f8e2d5" stop-opacity="0.25"/><stop offset="0.82" stop-color="#f6d8c8" stop-opacity="0.09"/><stop offset="1" stop-color="#f5d0bd" stop-opacity="0"/></radialGradient><radialGradient id="cb6"><stop offset="0" stop-color="#fffaf6" stop-opacity="0.62"/><stop offset="0.3" stop-color="#fcf0e8" stop-opacity="0.39"/><stop offset="0.6" stop-color="#f8e2d5" stop-opacity="0.21"/><stop offset="0.82" stop-color="#f6d8c8" stop-opacity="0.07"/><stop offset="1" stop-color="#f5d0bd" stop-opacity="0"/></radialGradient><radialGradient id="cb7"><stop offset="0" stop-color="#fffaf6" stop-opacity="0.69"/><stop offset="0.3" stop-color="#fcf0e8" stop-opacity="0.47"/><stop offset="0.6" stop-color="#f8e2d5" stop-opacity="0.25"/><stop offset="0.82" stop-color="#f6d8c8" stop-opacity="0.09"/><stop offset="1" stop-color="#f5d0bd" stop-opacity="0"/></radialGradient><radialGradient id="cb8"><stop offset="0" stop-color="#fffaf6" stop-opacity="0.56"/><stop offset="0.3" stop-color="#fcf0e8" stop-opacity="0.31"/><stop offset="0.6" stop-color="#f8e2d5" stop-opacity="0.17"/><stop offset="0.82" stop-color="#f6d8c8" stop-opacity="0.06"/><stop offset="1" stop-color="#f5d0bd" stop-opacity="0"/></radialGradient><radialGradient id="cb9"><stop offset="0" stop-color="#fffaf6" stop-opacity="0.56"/><stop offset="0.3" stop-color="#fcf0e8" stop-opacity="0.31"/><stop offset="0.6" stop-color="#f8e2d5" stop-opacity="0.17"/><stop offset="0.82" stop-color="#f6d8c8" stop-opacity="0.06"/><stop offset="1" stop-color="#f5d0bd" stop-opacity="0"/></radialGradient><radialGradient id="cb10"><stop offset="0" stop-color="#fffaf6" stop-opacity="0.56"/><stop offset="0.3" stop-color="#fcf0e8" stop-opacity="0.31"/><stop offset="0.6" stop-color="#f8e2d5" stop-opacity="0.17"/><stop offset="0.82" stop-color="#f6d8c8" stop-opacity="0.06"/><stop offset="1" stop-color="#f5d0bd" stop-opacity="0"/></radialGradient><radialGradient id="cb11"><stop offset="0" stop-color="#fffaf6" stop-opacity="0.53"/><stop offset="0.3" stop-color="#fcf0e8" stop-opacity="0.27"/><stop offset="0.6" stop-color="#f8e2d5" stop-opacity="0.15"/><stop offset="0.82" stop-color="#f6d8c8" stop-opacity="0.05"/><stop offset="1" stop-color="#f5d0bd" stop-opacity="0"/></radialGradient><radialGradient id="cb12"><stop offset="0" stop-color="#fffaf6" stop-opacity="0.49"/><stop offset="0.3" stop-color="#fcf0e8" stop-opacity="0.23"/><stop offset="0.6" stop-color="#f8e2d5" stop-opacity="0.13"/><stop offset="0.82" stop-color="#f6d8c8" stop-opacity="0.04"/><stop offset="1" stop-color="#f5d0bd" stop-opacity="0"/></radialGradient><radialGradient id="cb13"><stop offset="0" stop-color="#fffaf6" stop-opacity="0.49"/><stop offset="0.3" stop-color="#fcf0e8" stop-opacity="0.23"/><stop offset="0.6" stop-color="#f8e2d5" stop-opacity="0.13"/><stop offset="0.82" stop-color="#f6d8c8" stop-opacity="0.04"/><stop offset="1" stop-color="#f5d0bd" stop-opacity="0"/></radialGradient><radialGradient id="hb0h"><stop offset="0" stop-color="rgb(238,105,85)" stop-opacity="0.61"/><stop offset="0.5" stop-color="rgb(240,125,105)" stop-opacity="0.38"/><stop offset="0.8" stop-color="rgb(242,140,118)" stop-opacity="0.16"/><stop offset="1" stop-color="rgb(242,150,128)" stop-opacity="0"/></radialGradient><radialGradient id="hb0"><stop offset="0" stop-color="rgb(167,16,24)" stop-opacity="1"/><stop offset="0.3" stop-color="rgb(224,47,42)" stop-opacity="0.97"/><stop offset="0.6" stop-color="rgb(238,100,80)" stop-opacity="0.47"/><stop offset="1" stop-color="rgb(240,125,105)" stop-opacity="0"/></radialGradient><radialGradient id="hb1h"><stop offset="0" stop-color="rgb(238,105,85)" stop-opacity="0.51"/><stop offset="0.5" stop-color="rgb(240,125,105)" stop-opacity="0.30"/><stop offset="0.8" stop-color="rgb(242,140,118)" stop-opacity="0.13"/><stop offset="1" stop-color="rgb(242,150,128)" stop-opacity="0"/></radialGradient><radialGradient id="hb1"><stop offset="0" stop-color="rgb(182,30,32)" stop-opacity="1"/><stop offset="0.3" stop-color="rgb(227,58,49)" stop-opacity="0.90"/><stop offset="0.6" stop-color="rgb(238,100,80)" stop-opacity="0.41"/><stop offset="1" stop-color="rgb(240,125,105)" stop-opacity="0"/></radialGradient><radialGradient id="hb2h"><stop offset="0" stop-color="rgb(238,105,85)" stop-opacity="0.40"/><stop offset="0.5" stop-color="rgb(240,125,105)" stop-opacity="0.23"/><stop offset="0.8" stop-color="rgb(242,140,118)" stop-opacity="0.10"/><stop offset="1" stop-color="rgb(242,150,128)" stop-opacity="0"/></radialGradient><radialGradient id="hb2"><stop offset="0" stop-color="rgb(197,42,40)" stop-opacity="1"/><stop offset="0.3" stop-color="rgb(230,68,56)" stop-opacity="0.82"/><stop offset="0.6" stop-color="rgb(238,100,80)" stop-opacity="0.35"/><stop offset="1" stop-color="rgb(240,125,105)" stop-opacity="0"/></radialGradient><radialGradient id="hb3h"><stop offset="0" stop-color="rgb(238,105,85)" stop-opacity="0.56"/><stop offset="0.5" stop-color="rgb(240,125,105)" stop-opacity="0.34"/><stop offset="0.8" stop-color="rgb(242,140,118)" stop-opacity="0.14"/><stop offset="1" stop-color="rgb(242,150,128)" stop-opacity="0"/></radialGradient><radialGradient id="hb3"><stop offset="0" stop-color="rgb(175,23,28)" stop-opacity="1"/><stop offset="0.3" stop-color="rgb(225,53,45)" stop-opacity="0.93"/><stop offset="0.6" stop-color="rgb(238,100,80)" stop-opacity="0.44"/><stop offset="1" stop-color="rgb(240,125,105)" stop-opacity="0"/></radialGradient><radialGradient id="hb4h"><stop offset="0" stop-color="rgb(238,105,85)" stop-opacity="0.53"/><stop offset="0.5" stop-color="rgb(240,125,105)" stop-opacity="0.32"/><stop offset="0.8" stop-color="rgb(242,140,118)" stop-opacity="0.14"/><stop offset="1" stop-color="rgb(242,150,128)" stop-opacity="0"/></radialGradient><radialGradient id="hb4"><stop offset="0" stop-color="rgb(178,26,30)" stop-opacity="1"/><stop offset="0.3" stop-color="rgb(226,55,47)" stop-opacity="0.91"/><stop offset="0.6" stop-color="rgb(238,100,80)" stop-opacity="0.42"/><stop offset="1" stop-color="rgb(240,125,105)" stop-opacity="0"/></radialGradient><radialGradient id="hb5h"><stop offset="0" stop-color="rgb(238,105,85)" stop-opacity="0.31"/><stop offset="0.5" stop-color="rgb(240,125,105)" stop-opacity="0.18"/><stop offset="0.8" stop-color="rgb(242,140,118)" stop-opacity="0.08"/><stop offset="1" stop-color="rgb(242,150,128)" stop-opacity="0"/></radialGradient><radialGradient id="hb5"><stop offset="0" stop-color="rgb(208,52,46)" stop-opacity="1"/><stop offset="0.3" stop-color="rgb(232,76,62)" stop-opacity="0.77"/><stop offset="0.6" stop-color="rgb(238,100,80)" stop-opacity="0.30"/><stop offset="1" stop-color="rgb(240,125,105)" stop-opacity="0"/></radialGradient><radialGradient id="hb6h"><stop offset="0" stop-color="rgb(238,105,85)" stop-opacity="0.29"/><stop offset="0.5" stop-color="rgb(240,125,105)" stop-opacity="0.16"/><stop offset="0.8" stop-color="rgb(242,140,118)" stop-opacity="0.07"/><stop offset="1" stop-color="rgb(242,150,128)" stop-opacity="0"/></radialGradient><radialGradient id="hb6"><stop offset="0" stop-color="rgb(212,56,48)" stop-opacity="1"/><stop offset="0.3" stop-color="rgb(233,79,64)" stop-opacity="0.76"/><stop offset="0.6" stop-color="rgb(238,100,80)" stop-opacity="0.29"/><stop offset="1" stop-color="rgb(240,125,105)" stop-opacity="0"/></radialGradient><radialGradient id="hb7h"><stop offset="0" stop-color="rgb(238,105,85)" stop-opacity="0.26"/><stop offset="0.5" stop-color="rgb(240,125,105)" stop-opacity="0.15"/><stop offset="0.8" stop-color="rgb(242,140,118)" stop-opacity="0.07"/><stop offset="1" stop-color="rgb(242,150,128)" stop-opacity="0"/></radialGradient><radialGradient id="hb7"><stop offset="0" stop-color="rgb(216,59,50)" stop-opacity="1"/><stop offset="0.3" stop-color="rgb(234,82,66)" stop-opacity="0.74"/><stop offset="0.6" stop-color="rgb(238,100,80)" stop-opacity="0.28"/><stop offset="1" stop-color="rgb(240,125,105)" stop-opacity="0"/></radialGradient><radialGradient id="hb8h"><stop offset="0" stop-color="rgb(238,105,85)" stop-opacity="0.23"/><stop offset="0.5" stop-color="rgb(240,125,105)" stop-opacity="0.13"/><stop offset="0.8" stop-color="rgb(242,140,118)" stop-opacity="0.06"/><stop offset="1" stop-color="rgb(242,150,128)" stop-opacity="0"/></radialGradient><radialGradient id="hb8"><stop offset="0" stop-color="rgb(219,62,52)" stop-opacity="1"/><stop offset="0.3" stop-color="rgb(235,84,68)" stop-opacity="0.72"/><stop offset="0.6" stop-color="rgb(238,100,80)" stop-opacity="0.26"/><stop offset="1" stop-color="rgb(240,125,105)" stop-opacity="0"/></radialGradient><radialGradient id="hb9h"><stop offset="0" stop-color="rgb(238,105,85)" stop-opacity="0.23"/><stop offset="0.5" stop-color="rgb(240,125,105)" stop-opacity="0.13"/><stop offset="0.8" stop-color="rgb(242,140,118)" stop-opacity="0.06"/><stop offset="1" stop-color="rgb(242,150,128)" stop-opacity="0"/></radialGradient><radialGradient id="hb9"><stop offset="0" stop-color="rgb(219,62,52)" stop-opacity="1"/><stop offset="0.3" stop-color="rgb(235,84,68)" stop-opacity="0.72"/><stop offset="0.6" stop-color="rgb(238,100,80)" stop-opacity="0.26"/><stop offset="1" stop-color="rgb(240,125,105)" stop-opacity="0"/></radialGradient></defs><rect x="-2" y="-2" width="180" height="205" fill="rgb(242,194,172)"/><rect x="-2" y="-2" width="180" height="205" fill="url(#vgb)"/><use href="#mapl"/><ellipse cx="95.5" cy="101.6" rx="62" ry="58" fill="url(#ctrb)"/><circle cx="31.7" cy="46.6" r="21.0" fill="url(#cb0)"/><circle cx="31.7" cy="46.6" r="11.6" fill="none" stroke="rgb(238,160,140)" stroke-width="0.5" stroke-opacity="0.25"/><circle cx="31.7" cy="46.6" r="15.8" fill="none" stroke="rgb(238,160,140)" stroke-width="0.5" stroke-opacity="0.25"/><circle cx="31.7" cy="46.6" r="19.9" fill="none" stroke="rgb(238,160,140)" stroke-width="0.5" stroke-opacity="0.25"/><circle cx="81.1" cy="34.6" r="21.0" fill="url(#cb1)"/><circle cx="81.1" cy="34.6" r="11.6" fill="none" stroke="rgb(238,160,140)" stroke-width="0.5" stroke-opacity="0.25"/><circle cx="81.1" cy="34.6" r="15.8" fill="none" stroke="rgb(238,160,140)" stroke-width="0.5" stroke-opacity="0.25"/><circle cx="81.1" cy="34.6" r="19.9" fill="none" stroke="rgb(238,160,140)" stroke-width="0.5" stroke-opacity="0.25"/><circle cx="34.3" cy="138.1" r="21.0" fill="url(#cb2)"/><circle cx="34.3" cy="138.1" r="11.6" fill="none" stroke="rgb(238,160,140)" stroke-width="0.5" stroke-opacity="0.25"/><circle cx="34.3" cy="138.1" r="15.8" fill="none" stroke="rgb(238,160,140)" stroke-width="0.5" stroke-opacity="0.25"/><circle cx="34.3" cy="138.1" r="19.9" fill="none" stroke="rgb(238,160,140)" stroke-width="0.5" stroke-opacity="0.25"/><circle cx="98.7" cy="162.1" r="19.9" fill="url(#cb3)"/><circle cx="98.7" cy="162.1" r="10.9" fill="none" stroke="rgb(238,160,140)" stroke-width="0.5" stroke-opacity="0.24"/><circle cx="98.7" cy="162.1" r="14.9" fill="none" stroke="rgb(238,160,140)" stroke-width="0.5" stroke-opacity="0.24"/><circle cx="98.7" cy="162.1" r="18.9" fill="none" stroke="rgb(238,160,140)" stroke-width="0.5" stroke-opacity="0.24"/><circle cx="88.1" cy="20.0" r="16.6" fill="url(#cb4)"/><circle cx="88.1" cy="20.0" r="9.1" fill="none" stroke="rgb(238,160,140)" stroke-width="0.5" stroke-opacity="0.19"/><circle cx="88.1" cy="20.0" r="12.5" fill="none" stroke="rgb(238,160,140)" stroke-width="0.5" stroke-opacity="0.19"/><circle cx="88.1" cy="20.0" r="15.8" fill="none" stroke="rgb(238,160,140)" stroke-width="0.5" stroke-opacity="0.19"/><circle cx="133.8" cy="51.7" r="16.6" fill="url(#cb5)"/><circle cx="133.8" cy="51.7" r="9.1" fill="none" stroke="rgb(238,160,140)" stroke-width="0.5" stroke-opacity="0.19"/><circle cx="133.8" cy="51.7" r="12.5" fill="none" stroke="rgb(238,160,140)" stroke-width="0.5" stroke-opacity="0.19"/><circle cx="133.8" cy="51.7" r="15.8" fill="none" stroke="rgb(238,160,140)" stroke-width="0.5" stroke-opacity="0.19"/><circle cx="166.4" cy="59.9" r="15.5" fill="url(#cb6)"/><circle cx="166.4" cy="59.9" r="8.5" fill="none" stroke="rgb(238,160,140)" stroke-width="0.5" stroke-opacity="0.17"/><circle cx="166.4" cy="59.9" r="11.6" fill="none" stroke="rgb(238,160,140)" stroke-width="0.5" stroke-opacity="0.17"/><circle cx="166.4" cy="59.9" r="14.7" fill="none" stroke="rgb(238,160,140)" stroke-width="0.5" stroke-opacity="0.17"/><circle cx="110.4" cy="191.4" r="16.6" fill="url(#cb7)"/><circle cx="110.4" cy="191.4" r="9.1" fill="none" stroke="rgb(238,160,140)" stroke-width="0.5" stroke-opacity="0.19"/><circle cx="110.4" cy="191.4" r="12.5" fill="none" stroke="rgb(238,160,140)" stroke-width="0.5" stroke-opacity="0.19"/><circle cx="110.4" cy="191.4" r="15.8" fill="none" stroke="rgb(238,160,140)" stroke-width="0.5" stroke-opacity="0.19"/><circle cx="124.9" cy="142.6" r="14.4" fill="url(#cb8)"/><circle cx="124.9" cy="142.6" r="7.9" fill="none" stroke="rgb(238,160,140)" stroke-width="0.5" stroke-opacity="0.16"/><circle cx="124.9" cy="142.6" r="10.8" fill="none" stroke="rgb(238,160,140)" stroke-width="0.5" stroke-opacity="0.16"/><circle cx="124.9" cy="142.6" r="13.7" fill="none" stroke="rgb(238,160,140)" stroke-width="0.5" stroke-opacity="0.16"/><circle cx="116.3" cy="23.1" r="14.4" fill="url(#cb9)"/><circle cx="116.3" cy="23.1" r="7.9" fill="none" stroke="rgb(238,160,140)" stroke-width="0.5" stroke-opacity="0.16"/><circle cx="116.3" cy="23.1" r="10.8" fill="none" stroke="rgb(238,160,140)" stroke-width="0.5" stroke-opacity="0.16"/><circle cx="116.3" cy="23.1" r="13.7" fill="none" stroke="rgb(238,160,140)" stroke-width="0.5" stroke-opacity="0.16"/><circle cx="102.7" cy="104.2" r="14.4" fill="url(#cb10)"/><circle cx="102.7" cy="104.2" r="7.9" fill="none" stroke="rgb(238,160,140)" stroke-width="0.5" stroke-opacity="0.16"/><circle cx="102.7" cy="104.2" r="10.8" fill="none" stroke="rgb(238,160,140)" stroke-width="0.5" stroke-opacity="0.16"/><circle cx="102.7" cy="104.2" r="13.7" fill="none" stroke="rgb(238,160,140)" stroke-width="0.5" stroke-opacity="0.16"/><circle cx="43.9" cy="90.0" r="13.8" fill="url(#cb11)"/><circle cx="73.0" cy="91.2" r="13.3" fill="url(#cb12)"/><circle cx="7.7" cy="75.7" r="13.3" fill="url(#cb13)"/><circle cx="97.5" cy="74.0" r="18.2" fill="url(#hb0h)"/><circle cx="97.5" cy="74.0" r="6.2" fill="none" stroke="rgb(236,115,100)" stroke-width="0.55" stroke-opacity="0.34"/><circle cx="97.5" cy="74.0" r="8.6" fill="none" stroke="rgb(236,115,100)" stroke-width="0.55" stroke-opacity="0.34"/><circle cx="97.5" cy="74.0" r="10.9" fill="none" stroke="rgb(236,115,100)" stroke-width="0.55" stroke-opacity="0.34"/><circle cx="97.5" cy="74.0" r="13.3" fill="none" stroke="rgb(236,115,100)" stroke-width="0.55" stroke-opacity="0.34"/><circle cx="97.5" cy="74.0" r="15.7" fill="none" stroke="rgb(236,115,100)" stroke-width="0.55" stroke-opacity="0.34"/><circle cx="97.5" cy="74.0" r="9.9" fill="url(#hb0)"/><circle cx="51.6" cy="107.0" r="16.6" fill="url(#hb1h)"/><circle cx="51.6" cy="107.0" r="5.6" fill="none" stroke="rgb(236,115,100)" stroke-width="0.55" stroke-opacity="0.29"/><circle cx="51.6" cy="107.0" r="7.8" fill="none" stroke="rgb(236,115,100)" stroke-width="0.55" stroke-opacity="0.29"/><circle cx="51.6" cy="107.0" r="10.0" fill="none" stroke="rgb(236,115,100)" stroke-width="0.55" stroke-opacity="0.29"/><circle cx="51.6" cy="107.0" r="12.1" fill="none" stroke="rgb(236,115,100)" stroke-width="0.55" stroke-opacity="0.29"/><circle cx="51.6" cy="107.0" r="14.3" fill="none" stroke="rgb(236,115,100)" stroke-width="0.55" stroke-opacity="0.29"/><circle cx="51.6" cy="107.0" r="8.8" fill="url(#hb1)"/><circle cx="90.1" cy="102.6" r="15.0" fill="url(#hb2h)"/><circle cx="90.1" cy="102.6" r="5.1" fill="none" stroke="rgb(236,115,100)" stroke-width="0.55" stroke-opacity="0.24"/><circle cx="90.1" cy="102.6" r="7.0" fill="none" stroke="rgb(236,115,100)" stroke-width="0.55" stroke-opacity="0.24"/><circle cx="90.1" cy="102.6" r="9.0" fill="none" stroke="rgb(236,115,100)" stroke-width="0.55" stroke-opacity="0.24"/><circle cx="90.1" cy="102.6" r="10.9" fill="none" stroke="rgb(236,115,100)" stroke-width="0.55" stroke-opacity="0.24"/><circle cx="90.1" cy="102.6" r="12.9" fill="none" stroke="rgb(236,115,100)" stroke-width="0.55" stroke-opacity="0.24"/><circle cx="90.1" cy="102.6" r="7.8" fill="url(#hb2)"/><circle cx="136.0" cy="129.8" r="17.4" fill="url(#hb3h)"/><circle cx="136.0" cy="129.8" r="5.9" fill="none" stroke="rgb(236,115,100)" stroke-width="0.55" stroke-opacity="0.32"/><circle cx="136.0" cy="129.8" r="8.2" fill="none" stroke="rgb(236,115,100)" stroke-width="0.55" stroke-opacity="0.32"/><circle cx="136.0" cy="129.8" r="10.4" fill="none" stroke="rgb(236,115,100)" stroke-width="0.55" stroke-opacity="0.32"/><circle cx="136.0" cy="129.8" r="12.7" fill="none" stroke="rgb(236,115,100)" stroke-width="0.55" stroke-opacity="0.32"/><circle cx="136.0" cy="129.8" r="15.0" fill="none" stroke="rgb(236,115,100)" stroke-width="0.55" stroke-opacity="0.32"/><circle cx="136.0" cy="129.8" r="9.4" fill="url(#hb3)"/><circle cx="96.1" cy="145.8" r="17.0" fill="url(#hb4h)"/><circle cx="96.1" cy="145.8" r="5.8" fill="none" stroke="rgb(236,115,100)" stroke-width="0.55" stroke-opacity="0.31"/><circle cx="96.1" cy="145.8" r="8.0" fill="none" stroke="rgb(236,115,100)" stroke-width="0.55" stroke-opacity="0.31"/><circle cx="96.1" cy="145.8" r="10.2" fill="none" stroke="rgb(236,115,100)" stroke-width="0.55" stroke-opacity="0.31"/><circle cx="96.1" cy="145.8" r="12.4" fill="none" stroke="rgb(236,115,100)" stroke-width="0.55" stroke-opacity="0.31"/><circle cx="96.1" cy="145.8" r="14.6" fill="none" stroke="rgb(236,115,100)" stroke-width="0.55" stroke-opacity="0.31"/><circle cx="96.1" cy="145.8" r="9.1" fill="url(#hb4)"/><circle cx="124.2" cy="93.8" r="13.8" fill="url(#hb5h)"/><circle cx="124.2" cy="93.8" r="4.7" fill="none" stroke="rgb(236,115,100)" stroke-width="0.55" stroke-opacity="0.21"/><circle cx="124.2" cy="93.8" r="6.5" fill="none" stroke="rgb(236,115,100)" stroke-width="0.55" stroke-opacity="0.21"/><circle cx="124.2" cy="93.8" r="8.3" fill="none" stroke="rgb(236,115,100)" stroke-width="0.55" stroke-opacity="0.21"/><circle cx="124.2" cy="93.8" r="10.1" fill="none" stroke="rgb(236,115,100)" stroke-width="0.55" stroke-opacity="0.21"/><circle cx="124.2" cy="93.8" r="11.9" fill="none" stroke="rgb(236,115,100)" stroke-width="0.55" stroke-opacity="0.21"/><circle cx="124.2" cy="93.8" r="6.9" fill="url(#hb5)"/><circle cx="117.9" cy="121.5" r="13.4" fill="url(#hb6h)"/><circle cx="117.9" cy="121.5" r="4.6" fill="none" stroke="rgb(236,115,100)" stroke-width="0.55" stroke-opacity="0.20"/><circle cx="117.9" cy="121.5" r="6.3" fill="none" stroke="rgb(236,115,100)" stroke-width="0.55" stroke-opacity="0.20"/><circle cx="117.9" cy="121.5" r="8.0" fill="none" stroke="rgb(236,115,100)" stroke-width="0.55" stroke-opacity="0.20"/><circle cx="117.9" cy="121.5" r="9.8" fill="none" stroke="rgb(236,115,100)" stroke-width="0.55" stroke-opacity="0.20"/><circle cx="117.9" cy="121.5" r="11.5" fill="none" stroke="rgb(236,115,100)" stroke-width="0.55" stroke-opacity="0.20"/><circle cx="117.9" cy="121.5" r="6.7" fill="url(#hb6)"/><circle cx="84.4" cy="115.6" r="13.0" fill="url(#hb7h)"/><circle cx="84.4" cy="115.6" r="4.4" fill="none" stroke="rgb(236,115,100)" stroke-width="0.55" stroke-opacity="0.18"/><circle cx="84.4" cy="115.6" r="6.1" fill="none" stroke="rgb(236,115,100)" stroke-width="0.55" stroke-opacity="0.18"/><circle cx="84.4" cy="115.6" r="7.8" fill="none" stroke="rgb(236,115,100)" stroke-width="0.55" stroke-opacity="0.18"/><circle cx="84.4" cy="115.6" r="9.5" fill="none" stroke="rgb(236,115,100)" stroke-width="0.55" stroke-opacity="0.18"/><circle cx="84.4" cy="115.6" r="11.2" fill="none" stroke="rgb(236,115,100)" stroke-width="0.55" stroke-opacity="0.18"/><circle cx="84.4" cy="115.6" r="6.4" fill="url(#hb7)"/><circle cx="72.0" cy="78.2" r="12.6" fill="url(#hb8h)"/><circle cx="72.0" cy="78.2" r="4.3" fill="none" stroke="rgb(236,115,100)" stroke-width="0.55" stroke-opacity="0.17"/><circle cx="72.0" cy="78.2" r="5.9" fill="none" stroke="rgb(236,115,100)" stroke-width="0.55" stroke-opacity="0.17"/><circle cx="72.0" cy="78.2" r="7.6" fill="none" stroke="rgb(236,115,100)" stroke-width="0.55" stroke-opacity="0.17"/><circle cx="72.0" cy="78.2" r="9.2" fill="none" stroke="rgb(236,115,100)" stroke-width="0.55" stroke-opacity="0.17"/><circle cx="72.0" cy="78.2" r="10.8" fill="none" stroke="rgb(236,115,100)" stroke-width="0.55" stroke-opacity="0.17"/><circle cx="72.0" cy="78.2" r="6.1" fill="url(#hb8)"/><circle cx="55.1" cy="87.0" r="12.6" fill="url(#hb9h)"/><circle cx="55.1" cy="87.0" r="4.3" fill="none" stroke="rgb(236,115,100)" stroke-width="0.55" stroke-opacity="0.17"/><circle cx="55.1" cy="87.0" r="5.9" fill="none" stroke="rgb(236,115,100)" stroke-width="0.55" stroke-opacity="0.17"/><circle cx="55.1" cy="87.0" r="7.6" fill="none" stroke="rgb(236,115,100)" stroke-width="0.55" stroke-opacity="0.17"/><circle cx="55.1" cy="87.0" r="9.2" fill="none" stroke="rgb(236,115,100)" stroke-width="0.55" stroke-opacity="0.17"/><circle cx="55.1" cy="87.0" r="10.8" fill="none" stroke="rgb(236,115,100)" stroke-width="0.55" stroke-opacity="0.17"/><circle cx="55.1" cy="87.0" r="6.1" fill="url(#hb9)"/><use href="#mkf"/><path stroke="none" d="M97.50 76.75 L94.75 71.25 L100.25 71.25 Z" fill="rgb(151,22,30)"/><path stroke="none" d="M51.60 109.75 L48.85 104.25 L54.35 104.25 Z" fill="rgb(194,38,40)"/><path stroke="none" d="M90.10 105.35 L87.35 99.85 L92.85 99.85 Z" fill="rgb(223,77,69)"/><path stroke="none" d="M136.00 132.55 L133.25 127.05 L138.75 127.05 Z" fill="rgb(172,30,35)"/><path stroke="none" d="M96.10 148.55 L93.35 143.05 L98.85 143.05 Z" fill="rgb(183,34,38)"/><path stroke="none" d="M124.20 96.55 L121.45 91.05 L126.95 91.05 Z" fill="rgb(231,114,98)"/><path stroke="none" d="M117.90 124.25 L115.15 118.75 L120.65 118.75 Z" fill="rgb(234,124,105)"/><path stroke="none" d="M84.40 118.35 L81.65 112.85 L87.15 112.85 Z" fill="rgb(236,132,111)"/><path stroke="none" d="M72.00 80.95 L69.25 75.45 L74.75 75.45 Z" fill="rgb(237,138,116)"/><path stroke="none" d="M55.10 89.75 L52.35 84.25 L57.85 84.25 Z" fill="rgb(237,138,116)"/><path stroke="none" d="M31.70 43.85 L28.95 49.35 L34.45 49.35 Z" fill="rgb(255,252,250)"/><path stroke="none" d="M81.10 31.85 L78.35 37.35 L83.85 37.35 Z" fill="rgb(255,252,250)"/><path stroke="none" d="M34.30 135.35 L31.55 140.85 L37.05 140.85 Z" fill="rgb(255,252,250)"/><path stroke="none" d="M98.70 159.35 L95.95 164.85 L101.45 164.85 Z" fill="rgb(254,249,246)"/><path stroke="none" d="M88.10 17.25 L85.35 22.75 L90.85 22.75 Z" fill="rgb(252,241,234)"/><circle stroke="none" cx="133.80" cy="51.70" r="2.85" fill="rgb(252,241,234)"/><circle stroke="none" cx="166.40" cy="59.90" r="2.85" fill="rgb(252,238,230)"/><path stroke="none" d="M110.40 188.65 L107.65 194.15 L113.15 194.15 Z" fill="rgb(252,241,234)"/><path stroke="none" d="M124.90 139.85 L122.15 145.35 L127.65 145.35 Z" fill="rgb(251,236,226)"/><path stroke="none" d="M116.30 20.35 L113.55 25.85 L119.05 25.85 Z" fill="rgb(251,236,226)"/><circle stroke="none" cx="102.70" cy="104.20" r="2.85" fill="rgb(251,236,226)"/><circle stroke="none" cx="43.90" cy="90.00" r="2.85" fill="rgb(250,234,224)"/><circle stroke="none" cx="73.00" cy="91.20" r="2.85" fill="rgb(250,233,222)"/><circle stroke="none" cx="7.70" cy="75.70" r="2.85" fill="rgb(250,233,222)"/><use href="#bnd"/><use href="#mk"/></svg></div>
<div id="labb" class="t" style="left:281.09px;top:56.00px;font-size:10.00px;transform:scaleX(1.010);transform-origin:0 0;">(b)</div>
<div id="ttlb" class="t" style="left:342.56px;top:35.00px;font-size:10.40px;transform:scaleX(1.140);transform-origin:0 0;">Autumn</div>
<div class="cb" style="left:454px;top:86px"></div>
<div class="tk" style="left:461px;top:87.7px;width:3px;height:1px"></div>
<div id="cbb0" class="t" style="left:466.42px;top:84.00px;font-size:9.60px;transform:scaleX(0.940);transform-origin:0 0;">443</div>
<div class="tk" style="left:461px;top:111.6px;width:3px;height:1px"></div>
<div id="cbb1" class="t" style="left:466.42px;top:108.00px;font-size:9.60px;transform:scaleX(0.940);transform-origin:0 0;">440</div>
<div class="tk" style="left:461px;top:135.5px;width:3px;height:1px"></div>
<div id="cbb2" class="t" style="left:466.42px;top:131.00px;font-size:9.60px;transform:scaleX(0.940);transform-origin:0 0;">437</div>
<div class="tk" style="left:461px;top:159.4px;width:3px;height:1px"></div>
<div id="cbb3" class="t" style="left:466.42px;top:155.00px;font-size:9.60px;transform:scaleX(0.940);transform-origin:0 0;">434</div>
<div class="tk" style="left:461px;top:183.3px;width:3px;height:1px"></div>
<div id="cbb4" class="t" style="left:466.42px;top:179.00px;font-size:9.60px;transform:scaleX(0.940);transform-origin:0 0;">430</div>
<div class="tk" style="left:461px;top:207.2px;width:3px;height:1px"></div>
<div id="cbb5" class="t" style="left:466.42px;top:203.00px;font-size:9.60px;transform:scaleX(0.940);transform-origin:0 0;">427</div>
<div style="position:absolute;left:492.70px;top:148.90px;width:0;height:0;transform:rotate(-90deg);"><div id="cblb" class="t" style="left:-28.91px;top:-9.09px;font-size:10.70px;transform:scaleX(1.133);transform-origin:0 0;">CO₂ (ppm)</div></div>
<div class="ax" style="left:54px;top:277px"><svg width="174" height="200" viewBox="0 0 174 200" style="position:absolute;left:0;top:0"><defs><linearGradient id="vgc" x1="0" y1="0" x2="0" y2="1"><stop offset="0" stop-color="#fff" stop-opacity="0.2"/><stop offset="0.45" stop-color="#fff" stop-opacity="0"/><stop offset="0.55" stop-color="rgb(235,135,105)" stop-opacity="0"/><stop offset="1" stop-color="rgb(235,135,105)" stop-opacity="0.2"/></linearGradient><radialGradient id="ctrc"><stop offset="0" stop-color="rgb(242,154,130)" stop-opacity="0.9"/><stop offset="0.55" stop-color="rgb(242,154,130)" stop-opacity="0.55"/><stop offset="1" stop-color="rgb(242,154,130)" stop-opacity="0"/></radialGradient><radialGradient id="cc0"><stop offset="0" stop-color="#fffaf6" stop-opacity="0.79"/><stop offset="0.3" stop-color="#fcf0e8" stop-opacity="0.58"/><stop offset="0.6" stop-color="#f8e2d5" stop-opacity="0.32"/><stop offset="0.82" stop-color="#f6d8c8" stop-opacity="0.11"/><stop offset="1" stop-color="#f5d0bd" stop-opacity="0"/></radialGradient><radialGradient id="cc1"><stop offset="0" stop-color="#fffaf6" stop-opacity="0.69"/><stop offset="0.3" stop-color="#fcf0e8" stop-opacity="0.47"/><stop offset="0.6" stop-color="#f8e2d5" stop-opacity="0.25"/><stop offset="0.82" stop-color="#f6d8c8" stop-opacity="0.09"/><stop offset="1" stop-color="#f5d0bd" stop-opacity="0"/></radialGradient><radialGradient id="cc2"><stop offset="0" stop-color="#fffaf6" stop-opacity="0.62"/><stop offset="0.3" stop-color="#fcf0e8" stop-opacity="0.39"/><stop offset="0.6" stop-color="#f8e2d5" stop-opacity="0.21"/><stop offset="0.82" stop-color="#f6d8c8" stop-opacity="0.07"/><stop offset="1" stop-color="#f5d0bd" stop-opacity="0"/></radialGradient><radialGradient id="cc3"><stop offset="0" stop-color="#fffaf6" stop-opacity="0.95"/><stop offset="0.3" stop-color="#fcf0e8" stop-opacity="0.78"/><stop offset="0.6" stop-color="#f8e2d5" stop-opacity="0.42"/><stop offset="0.82" stop-color="#f6d8c8" stop-opacity="0.15"/><stop offset="1" stop-color="#f5d0bd" stop-opacity="0"/></radialGradient><radialGradient id="cc4"><stop offset="0" stop-color="#fffaf6" stop-opacity="0.89"/><stop offset="0.3" stop-color="#fcf0e8" stop-opacity="0.70"/><stop offset="0.6" stop-color="#f8e2d5" stop-opacity="0.38"/><stop offset="0.82" stop-color="#f6d8c8" stop-opacity="0.14"/><stop offset="1" stop-color="#f5d0bd" stop-opacity="0"/></radialGradient><radialGradient id="cc5"><stop offset="0" stop-color="#fffaf6" stop-opacity="0.82"/><stop offset="0.3" stop-color="#fcf0e8" stop-opacity="0.62"/><stop offset="0.6" stop-color="#f8e2d5" stop-opacity="0.34"/><stop offset="0.82" stop-color="#f6d8c8" stop-opacity="0.12"/><stop offset="1" stop-color="#f5d0bd" stop-opacity="0"/></radialGradient><radialGradient id="cc6"><stop offset="0" stop-color="#fffaf6" stop-opacity="0.89"/><stop offset="0.3" stop-color="#fcf0e8" stop-opacity="0.70"/><stop offset="0.6" stop-color="#f8e2d5" stop-opacity="0.38"/><stop offset="0.82" stop-color="#f6d8c8" stop-opacity="0.14"/><stop offset="1" stop-color="#f5d0bd" stop-opacity="0"/></radialGradient><radialGradient id="cc7"><stop offset="0" stop-color="#fffaf6" stop-opacity="0.82"/><stop offset="0.3" stop-color="#fcf0e8" stop-opacity="0.62"/><stop offset="0.6" stop-color="#f8e2d5" stop-opacity="0.34"/><stop offset="0.82" stop-color="#f6d8c8" stop-opacity="0.12"/><stop offset="1" stop-color="#f5d0bd" stop-opacity="0"/></radialGradient><radialGradient id="cc8"><stop offset="0" stop-color="#fffaf6" stop-opacity="0.62"/><stop offset="0.3" stop-color="#fcf0e8" stop-opacity="0.39"/><stop offset="0.6" stop-color="#f8e2d5" stop-opacity="0.21"/><stop offset="0.82" stop-color="#f6d8c8" stop-opacity="0.07"/><stop offset="1" stop-color="#f5d0bd" stop-opacity="0"/></radialGradient><radialGradient id="cc9"><stop offset="0" stop-color="#fffaf6" stop-opacity="0.62"/><stop offset="0.3" stop-color="#fcf0e8" stop-opacity="0.39"/><stop offset="0.6" stop-color="#f8e2d5" stop-opacity="0.21"/><stop offset="0.82" stop-color="#f6d8c8" stop-opacity="0.07"/><stop offset="1" stop-color="#f5d0bd" stop-opacity="0"/></radialGradient><radialGradient id="cc10"><stop offset="0" stop-color="#fffaf6" stop-opacity="0.62"/><stop offset="0.3" stop-color="#fcf0e8" stop-opacity="0.39"/><stop offset="0.6" stop-color="#f8e2d5" stop-opacity="0.21"/><stop offset="0.82" stop-color="#f6d8c8" stop-opacity="0.07"/><stop offset="1" stop-color="#f5d0bd" stop-opacity="0"/></radialGradient><radialGradient id="cc11"><stop offset="0" stop-color="#fffaf6" stop-opacity="0.62"/><stop offset="0.3" stop-color="#fcf0e8" stop-opacity="0.39"/><stop offset="0.6" stop-color="#f8e2d5" stop-opacity="0.21"/><stop offset="0.82" stop-color="#f6d8c8" stop-opacity="0.07"/><stop offset="1" stop-color="#f5d0bd" stop-opacity="0"/></radialGradient><radialGradient id="cc12"><stop offset="0" stop-color="#fffaf6" stop-opacity="0.62"/><stop offset="0.3" stop-color="#fcf0e8" stop-opacity="0.39"/><stop offset="0.6" stop-color="#f8e2d5" stop-opacity="0.21"/><stop offset="0.82" stop-color="#f6d8c8" stop-opacity="0.07"/><stop offset="1" stop-color="#f5d0bd" stop-opacity="0"/></radialGradient><radialGradient id="cc13"><stop offset="0" stop-color="#fffaf6" stop-opacity="0.56"/><stop offset="0.3" stop-color="#fcf0e8" stop-opacity="0.31"/><stop offset="0.6" stop-color="#f8e2d5" stop-opacity="0.17"/><stop offset="0.82" stop-color="#f6d8c8" stop-opacity="0.06"/><stop offset="1" stop-color="#f5d0bd" stop-opacity="0"/></radialGradient><radialGradient id="hc0h"><stop offset="0" stop-color="rgb(238,105,85)" stop-opacity="0.59"/><stop offset="0.5" stop-color="rgb(240,125,105)" stop-opacity="0.36"/><stop offset="0.8" stop-color="rgb(242,140,118)" stop-opacity="0.15"/><stop offset="1" stop-color="rgb(242,150,128)" stop-opacity="0"/></radialGradient><radialGradient id="hc0"><stop offset="0" stop-color="rgb(171,20,26)" stop-opacity="1"/><stop offset="0.3" stop-color="rgb(224,50,44)" stop-opacity="0.95"/><stop offset="0.6" stop-color="rgb(238,100,80)" stop-opacity="0.46"/><stop offset="1" stop-color="rgb(240,125,105)" stop-opacity="0"/></radialGradient><radialGradient id="hc1h"><stop offset="0" stop-color="rgb(238,105,85)" stop-opacity="0.64"/><stop offset="0.5" stop-color="rgb(240,125,105)" stop-opacity="0.39"/><stop offset="0.8" stop-color="rgb(242,140,118)" stop-opacity="0.16"/><stop offset="1" stop-color="rgb(242,150,128)" stop-opacity="0"/></radialGradient><radialGradient id="hc1"><stop offset="0" stop-color="rgb(164,13,22)" stop-opacity="1"/><stop offset="0.3" stop-color="rgb(223,45,40)" stop-opacity="0.98"/><stop offset="0.6" stop-color="rgb(238,100,80)" stop-opacity="0.48"/><stop offset="1" stop-color="rgb(240,125,105)" stop-opacity="0"/></radialGradient><radialGradient id="hc2h"><stop offset="0" stop-color="rgb(238,105,85)" stop-opacity="0.51"/><stop offset="0.5" stop-color="rgb(240,125,105)" stop-opacity="0.30"/><stop offset="0.8" stop-color="rgb(242,140,118)" stop-opacity="0.13"/><stop offset="1" stop-color="rgb(242,150,128)" stop-opacity="0"/></radialGradient><radialGradient id="hc2"><stop offset="0" stop-color="rgb(182,30,32)" stop-opacity="1"/><stop offset="0.3" stop-color="rgb(227,58,49)" stop-opacity="0.90"/><stop offset="0.6" stop-color="rgb(238,100,80)" stop-opacity="0.41"/><stop offset="1" stop-color="rgb(240,125,105)" stop-opacity="0"/></radialGradient><radialGradient id="hc3h"><stop offset="0" stop-color="rgb(238,105,85)" stop-opacity="0.51"/><stop offset="0.5" stop-color="rgb(240,125,105)" stop-opacity="0.30"/><stop offset="0.8" stop-color="rgb(242,140,118)" stop-opacity="0.13"/><stop offset="1" stop-color="rgb(242,150,128)" stop-opacity="0"/></radialGradient><radialGradient id="hc3"><stop offset="0" stop-color="rgb(182,30,32)" stop-opacity="1"/><stop offset="0.3" stop-color="rgb(227,58,49)" stop-opacity="0.90"/><stop offset="0.6" stop-color="rgb(238,100,80)" stop-opacity="0.41"/><stop offset="1" stop-color="rgb(240,125,105)" stop-opacity="0"/></radialGradient><radialGradient id="hc4h"><stop offset="0" stop-color="rgb(238,105,85)" stop-opacity="0.51"/><stop offset="0.5" stop-color="rgb(240,125,105)" stop-opacity="0.30"/><stop offset="0.8" stop-color="rgb(242,140,118)" stop-opacity="0.13"/><stop offset="1" stop-color="rgb(242,150,128)" stop-opacity="0"/></radialGradient><radialGradient id="hc4"><stop offset="0" stop-color="rgb(182,30,32)" stop-opacity="1"/><stop offset="0.3" stop-color="rgb(227,58,49)" stop-opacity="0.90"/><stop offset="0.6" stop-color="rgb(238,100,80)" stop-opacity="0.41"/><stop offset="1" stop-color="rgb(240,125,105)" stop-opacity="0"/></radialGradient><radialGradient id="hc5h"><stop offset="0" stop-color="rgb(238,105,85)" stop-opacity="0.40"/><stop offset="0.5" stop-color="rgb(240,125,105)" stop-opacity="0.23"/><stop offset="0.8" stop-color="rgb(242,140,118)" stop-opacity="0.10"/><stop offset="1" stop-color="rgb(242,150,128)" stop-opacity="0"/></radialGradient><radialGradient id="hc5"><stop offset="0" stop-color="rgb(197,42,40)" stop-opacity="1"/><stop offset="0.3" stop-color="rgb(230,68,56)" stop-opacity="0.82"/><stop offset="0.6" stop-color="rgb(238,100,80)" stop-opacity="0.35"/><stop offset="1" stop-color="rgb(240,125,105)" stop-opacity="0"/></radialGradient><radialGradient id="hc6h"><stop offset="0" stop-color="rgb(238,105,85)" stop-opacity="0.40"/><stop offset="0.5" stop-color="rgb(240,125,105)" stop-opacity="0.23"/><stop offset="0.8" stop-color="rgb(242,140,118)" stop-opacity="0.10"/><stop offset="1" stop-color="rgb(242,150,128)" stop-opacity="0"/></radialGradient><radialGradient id="hc6"><stop offset="0" stop-color="rgb(197,42,40)" stop-opacity="1"/><stop offset="0.3" stop-color="rgb(230,68,56)" stop-opacity="0.82"/><stop offset="0.6" stop-color="rgb(238,100,80)" stop-opacity="0.35"/><stop offset="1" stop-color="rgb(240,125,105)" stop-opacity="0"/></radialGradient><radialGradient id="hc7h"><stop offset="0" stop-color="rgb(238,105,85)" stop-opacity="0.40"/><stop offset="0.5" stop-color="rgb(240,125,105)" stop-opacity="0.23"/><stop offset="0.8" stop-color="rgb(242,140,118)" stop-opacity="0.10"/><stop offset="1" stop-color="rgb(242,150,128)" stop-opacity="0"/></radialGradient><radialGradient id="hc7"><stop offset="0" stop-color="rgb(197,42,40)" stop-opacity="1"/><stop offset="0.3" stop-color="rgb(230,68,56)" stop-opacity="0.82"/><stop offset="0.6" stop-color="rgb(238,100,80)" stop-opacity="0.35"/><stop offset="1" stop-color="rgb(240,125,105)" stop-opacity="0"/></radialGradient><radialGradient id="hc8h"><stop offset="0" stop-color="rgb(238,105,85)" stop-opacity="0.37"/><stop offset="0.5" stop-color="rgb(240,125,105)" stop-opacity="0.22"/><stop offset="0.8" stop-color="rgb(242,140,118)" stop-opacity="0.09"/><stop offset="1" stop-color="rgb(242,150,128)" stop-opacity="0"/></radialGradient><radialGradient id="hc8"><stop offset="0" stop-color="rgb(201,46,42)" stop-opacity="1"/><stop offset="0.3" stop-color="rgb(231,71,58)" stop-opacity="0.81"/><stop offset="0.6" stop-color="rgb(238,100,80)" stop-opacity="0.34"/><stop offset="1" stop-color="rgb(240,125,105)" stop-opacity="0"/></radialGradient><radialGradient id="hc9h"><stop offset="0" stop-color="rgb(238,105,85)" stop-opacity="0.23"/><stop offset="0.5" stop-color="rgb(240,125,105)" stop-opacity="0.13"/><stop offset="0.8" stop-color="rgb(242,140,118)" stop-opacity="0.06"/><stop offset="1" stop-color="rgb(242,150,128)" stop-opacity="0"/></radialGradient><radialGradient id="hc9"><stop offset="0" stop-color="rgb(219,62,52)" stop-opacity="1"/><stop offset="0.3" stop-color="rgb(235,84,68)" stop-opacity="0.72"/><stop offset="0.6" stop-color="rgb(238,100,80)" stop-opacity="0.26"/><stop offset="1" stop-color="rgb(240,125,105)" stop-opacity="0"/></radialGradient></defs><rect x="-2" y="-2" width="180" height="205" fill="rgb(242,176,154)"/><rect x="-2" y="-2" width="180" height="205" fill="url(#vgc)"/><use href="#mapl"/><ellipse cx="95.5" cy="101.6" rx="62" ry="58" fill="url(#ctrc)"/><circle cx="31.7" cy="46.6" r="18.2" fill="url(#cc0)"/><circle cx="31.7" cy="46.6" r="10.0" fill="none" stroke="rgb(238,160,140)" stroke-width="0.5" stroke-opacity="0.21"/><circle cx="31.7" cy="46.6" r="13.7" fill="none" stroke="rgb(238,160,140)" stroke-width="0.5" stroke-opacity="0.21"/><circle cx="31.7" cy="46.6" r="17.3" fill="none" stroke="rgb(238,160,140)" stroke-width="0.5" stroke-opacity="0.21"/><circle cx="81.1" cy="34.6" r="16.6" fill="url(#cc1)"/><circle cx="81.1" cy="34.6" r="9.1" fill="none" stroke="rgb(238,160,140)" stroke-width="0.5" stroke-opacity="0.19"/><circle cx="81.1" cy="34.6" r="12.5" fill="none" stroke="rgb(238,160,140)" stroke-width="0.5" stroke-opacity="0.19"/><circle cx="81.1" cy="34.6" r="15.8" fill="none" stroke="rgb(238,160,140)" stroke-width="0.5" stroke-opacity="0.19"/><circle cx="88.1" cy="20.0" r="15.5" fill="url(#cc2)"/><circle cx="88.1" cy="20.0" r="8.5" fill="none" stroke="rgb(238,160,140)" stroke-width="0.5" stroke-opacity="0.17"/><circle cx="88.1" cy="20.0" r="11.6" fill="none" stroke="rgb(238,160,140)" stroke-width="0.5" stroke-opacity="0.17"/><circle cx="88.1" cy="20.0" r="14.7" fill="none" stroke="rgb(238,160,140)" stroke-width="0.5" stroke-opacity="0.17"/><circle cx="34.3" cy="138.1" r="21.0" fill="url(#cc3)"/><circle cx="34.3" cy="138.1" r="11.6" fill="none" stroke="rgb(238,160,140)" stroke-width="0.5" stroke-opacity="0.25"/><circle cx="34.3" cy="138.1" r="15.8" fill="none" stroke="rgb(238,160,140)" stroke-width="0.5" stroke-opacity="0.25"/><circle cx="34.3" cy="138.1" r="19.9" fill="none" stroke="rgb(238,160,140)" stroke-width="0.5" stroke-opacity="0.25"/><circle cx="98.7" cy="162.1" r="19.9" fill="url(#cc4)"/><circle cx="98.7" cy="162.1" r="10.9" fill="none" stroke="rgb(238,160,140)" stroke-width="0.5" stroke-opacity="0.24"/><circle cx="98.7" cy="162.1" r="14.9" fill="none" stroke="rgb(238,160,140)" stroke-width="0.5" stroke-opacity="0.24"/><circle cx="98.7" cy="162.1" r="18.9" fill="none" stroke="rgb(238,160,140)" stroke-width="0.5" stroke-opacity="0.24"/><circle cx="43.9" cy="90.0" r="18.8" fill="url(#cc5)"/><circle cx="43.9" cy="90.0" r="10.3" fill="none" stroke="rgb(238,160,140)" stroke-width="0.5" stroke-opacity="0.22"/><circle cx="43.9" cy="90.0" r="14.1" fill="none" stroke="rgb(238,160,140)" stroke-width="0.5" stroke-opacity="0.22"/><circle cx="43.9" cy="90.0" r="17.9" fill="none" stroke="rgb(238,160,140)" stroke-width="0.5" stroke-opacity="0.22"/><circle cx="166.4" cy="59.9" r="19.9" fill="url(#cc6)"/><circle cx="166.4" cy="59.9" r="10.9" fill="none" stroke="rgb(238,160,140)" stroke-width="0.5" stroke-opacity="0.24"/><circle cx="166.4" cy="59.9" r="14.9" fill="none" stroke="rgb(238,160,140)" stroke-width="0.5" stroke-opacity="0.24"/><circle cx="166.4" cy="59.9" r="18.9" fill="none" stroke="rgb(238,160,140)" stroke-width="0.5" stroke-opacity="0.24"/><circle cx="142.2" cy="97.4" r="18.8" fill="url(#cc7)"/><circle cx="142.2" cy="97.4" r="10.3" fill="none" stroke="rgb(238,160,140)" stroke-width="0.5" stroke-opacity="0.22"/><circle cx="142.2" cy="97.4" r="14.1" fill="none" stroke="rgb(238,160,140)" stroke-width="0.5" stroke-opacity="0.22"/><circle cx="142.2" cy="97.4" r="17.9" fill="none" stroke="rgb(238,160,140)" stroke-width="0.5" stroke-opacity="0.22"/><circle cx="7.7" cy="75.7" r="15.5" fill="url(#cc8)"/><circle cx="7.7" cy="75.7" r="8.5" fill="none" stroke="rgb(238,160,140)" stroke-width="0.5" stroke-opacity="0.17"/><circle cx="7.7" cy="75.7" r="11.6" fill="none" stroke="rgb(238,160,140)" stroke-width="0.5" stroke-opacity="0.17"/><circle cx="7.7" cy="75.7" r="14.7" fill="none" stroke="rgb(238,160,140)" stroke-width="0.5" stroke-opacity="0.17"/><circle cx="67.6" cy="61.5" r="15.5" fill="url(#cc9)"/><circle cx="67.6" cy="61.5" r="8.5" fill="none" stroke="rgb(238,160,140)" stroke-width="0.5" stroke-opacity="0.17"/><circle cx="67.6" cy="61.5" r="11.6" fill="none" stroke="rgb(238,160,140)" stroke-width="0.5" stroke-opacity="0.17"/><circle cx="67.6" cy="61.5" r="14.7" fill="none" stroke="rgb(238,160,140)" stroke-width="0.5" stroke-opacity="0.17"/><circle cx="110.4" cy="191.4" r="15.5" fill="url(#cc10)"/><circle cx="110.4" cy="191.4" r="8.5" fill="none" stroke="rgb(238,160,140)" stroke-width="0.5" stroke-opacity="0.17"/><circle cx="110.4" cy="191.4" r="11.6" fill="none" stroke="rgb(238,160,140)" stroke-width="0.5" stroke-opacity="0.17"/><circle cx="110.4" cy="191.4" r="14.7" fill="none" stroke="rgb(238,160,140)" stroke-width="0.5" stroke-opacity="0.17"/><circle cx="124.9" cy="142.6" r="15.5" fill="url(#cc11)"/><circle cx="124.9" cy="142.6" r="8.5" fill="none" stroke="rgb(238,160,140)" stroke-width="0.5" stroke-opacity="0.17"/><circle cx="124.9" cy="142.6" r="11.6" fill="none" stroke="rgb(238,160,140)" stroke-width="0.5" stroke-opacity="0.17"/><circle cx="124.9" cy="142.6" r="14.7" fill="none" stroke="rgb(238,160,140)" stroke-width="0.5" stroke-opacity="0.17"/><circle cx="133.8" cy="51.7" r="15.5" fill="url(#cc12)"/><circle cx="133.8" cy="51.7" r="8.5" fill="none" stroke="rgb(238,160,140)" stroke-width="0.5" stroke-opacity="0.17"/><circle cx="133.8" cy="51.7" r="11.6" fill="none" stroke="rgb(238,160,140)" stroke-width="0.5" stroke-opacity="0.17"/><circle cx="133.8" cy="51.7" r="14.7" fill="none" stroke="rgb(238,160,140)" stroke-width="0.5" stroke-opacity="0.17"/><circle cx="116.3" cy="23.1" r="14.4" fill="url(#cc13)"/><circle cx="116.3" cy="23.1" r="7.9" fill="none" stroke="rgb(238,160,140)" stroke-width="0.5" stroke-opacity="0.16"/><circle cx="116.3" cy="23.1" r="10.8" fill="none" stroke="rgb(238,160,140)" stroke-width="0.5" stroke-opacity="0.16"/><circle cx="116.3" cy="23.1" r="13.7" fill="none" stroke="rgb(238,160,140)" stroke-width="0.5" stroke-opacity="0.16"/><circle cx="51.6" cy="107.0" r="17.8" fill="url(#hc0h)"/><circle cx="51.6" cy="107.0" r="6.1" fill="none" stroke="rgb(236,115,100)" stroke-width="0.55" stroke-opacity="0.33"/><circle cx="51.6" cy="107.0" r="8.4" fill="none" stroke="rgb(236,115,100)" stroke-width="0.55" stroke-opacity="0.33"/><circle cx="51.6" cy="107.0" r="10.7" fill="none" stroke="rgb(236,115,100)" stroke-width="0.55" stroke-opacity="0.33"/><circle cx="51.6" cy="107.0" r="13.0" fill="none" stroke="rgb(236,115,100)" stroke-width="0.55" stroke-opacity="0.33"/><circle cx="51.6" cy="107.0" r="15.3" fill="none" stroke="rgb(236,115,100)" stroke-width="0.55" stroke-opacity="0.33"/><circle cx="51.6" cy="107.0" r="9.7" fill="url(#hc0)"/><circle cx="136.0" cy="129.8" r="18.6" fill="url(#hc1h)"/><circle cx="136.0" cy="129.8" r="6.3" fill="none" stroke="rgb(236,115,100)" stroke-width="0.55" stroke-opacity="0.36"/><circle cx="136.0" cy="129.8" r="8.7" fill="none" stroke="rgb(236,115,100)" stroke-width="0.55" stroke-opacity="0.36"/><circle cx="136.0" cy="129.8" r="11.2" fill="none" stroke="rgb(236,115,100)" stroke-width="0.55" stroke-opacity="0.36"/><circle cx="136.0" cy="129.8" r="13.6" fill="none" stroke="rgb(236,115,100)" stroke-width="0.55" stroke-opacity="0.36"/><circle cx="136.0" cy="129.8" r="16.0" fill="none" stroke="rgb(236,115,100)" stroke-width="0.55" stroke-opacity="0.36"/><circle cx="136.0" cy="129.8" r="10.2" fill="url(#hc1)"/><circle cx="90.1" cy="102.6" r="16.6" fill="url(#hc2h)"/><circle cx="90.1" cy="102.6" r="5.6" fill="none" stroke="rgb(236,115,100)" stroke-width="0.55" stroke-opacity="0.29"/><circle cx="90.1" cy="102.6" r="7.8" fill="none" stroke="rgb(236,115,100)" stroke-width="0.55" stroke-opacity="0.29"/><circle cx="90.1" cy="102.6" r="10.0" fill="none" stroke="rgb(236,115,100)" stroke-width="0.55" stroke-opacity="0.29"/><circle cx="90.1" cy="102.6" r="12.1" fill="none" stroke="rgb(236,115,100)" stroke-width="0.55" stroke-opacity="0.29"/><circle cx="90.1" cy="102.6" r="14.3" fill="none" stroke="rgb(236,115,100)" stroke-width="0.55" stroke-opacity="0.29"/><circle cx="90.1" cy="102.6" r="8.8" fill="url(#hc2)"/><circle cx="84.4" cy="115.6" r="16.6" fill="url(#hc3h)"/><circle cx="84.4" cy="115.6" r="5.6" fill="none" stroke="rgb(236,115,100)" stroke-width="0.55" stroke-opacity="0.29"/><circle cx="84.4" cy="115.6" r="7.8" fill="none" stroke="rgb(236,115,100)" stroke-width="0.55" stroke-opacity="0.29"/><circle cx="84.4" cy="115.6" r="10.0" fill="none" stroke="rgb(236,115,100)" stroke-width="0.55" stroke-opacity="0.29"/><circle cx="84.4" cy="115.6" r="12.1" fill="none" stroke="rgb(236,115,100)" stroke-width="0.55" stroke-opacity="0.29"/><circle cx="84.4" cy="115.6" r="14.3" fill="none" stroke="rgb(236,115,100)" stroke-width="0.55" stroke-opacity="0.29"/><circle cx="84.4" cy="115.6" r="8.8" fill="url(#hc3)"/><circle cx="117.9" cy="121.5" r="16.6" fill="url(#hc4h)"/><circle cx="117.9" cy="121.5" r="5.6" fill="none" stroke="rgb(236,115,100)" stroke-width="0.55" stroke-opacity="0.29"/><circle cx="117.9" cy="121.5" r="7.8" fill="none" stroke="rgb(236,115,100)" stroke-width="0.55" stroke-opacity="0.29"/><circle cx="117.9" cy="121.5" r="10.0" fill="none" stroke="rgb(236,115,100)" stroke-width="0.55" stroke-opacity="0.29"/><circle cx="117.9" cy="121.5" r="12.1" fill="none" stroke="rgb(236,115,100)" stroke-width="0.55" stroke-opacity="0.29"/><circle cx="117.9" cy="121.5" r="14.3" fill="none" stroke="rgb(236,115,100)" stroke-width="0.55" stroke-opacity="0.29"/><circle cx="117.9" cy="121.5" r="8.8" fill="url(#hc4)"/><circle cx="97.5" cy="74.0" r="15.0" fill="url(#hc5h)"/><circle cx="97.5" cy="74.0" r="5.1" fill="none" stroke="rgb(236,115,100)" stroke-width="0.55" stroke-opacity="0.24"/><circle cx="97.5" cy="74.0" r="7.0" fill="none" stroke="rgb(236,115,100)" stroke-width="0.55" stroke-opacity="0.24"/><circle cx="97.5" cy="74.0" r="9.0" fill="none" stroke="rgb(236,115,100)" stroke-width="0.55" stroke-opacity="0.24"/><circle cx="97.5" cy="74.0" r="10.9" fill="none" stroke="rgb(236,115,100)" stroke-width="0.55" stroke-opacity="0.24"/><circle cx="97.5" cy="74.0" r="12.9" fill="none" stroke="rgb(236,115,100)" stroke-width="0.55" stroke-opacity="0.24"/><circle cx="97.5" cy="74.0" r="7.8" fill="url(#hc5)"/><circle cx="106.1" cy="69.4" r="15.0" fill="url(#hc6h)"/><circle cx="106.1" cy="69.4" r="5.1" fill="none" stroke="rgb(236,115,100)" stroke-width="0.55" stroke-opacity="0.24"/><circle cx="106.1" cy="69.4" r="7.0" fill="none" stroke="rgb(236,115,100)" stroke-width="0.55" stroke-opacity="0.24"/><circle cx="106.1" cy="69.4" r="9.0" fill="none" stroke="rgb(236,115,100)" stroke-width="0.55" stroke-opacity="0.24"/><circle cx="106.1" cy="69.4" r="10.9" fill="none" stroke="rgb(236,115,100)" stroke-width="0.55" stroke-opacity="0.24"/><circle cx="106.1" cy="69.4" r="12.9" fill="none" stroke="rgb(236,115,100)" stroke-width="0.55" stroke-opacity="0.24"/><circle cx="106.1" cy="69.4" r="7.8" fill="url(#hc6)"/><circle cx="124.2" cy="93.8" r="15.0" fill="url(#hc7h)"/><circle cx="124.2" cy="93.8" r="5.1" fill="none" stroke="rgb(236,115,100)" stroke-width="0.55" stroke-opacity="0.24"/><circle cx="124.2" cy="93.8" r="7.0" fill="none" stroke="rgb(236,115,100)" stroke-width="0.55" stroke-opacity="0.24"/><circle cx="124.2" cy="93.8" r="9.0" fill="none" stroke="rgb(236,115,100)" stroke-width="0.55" stroke-opacity="0.24"/><circle cx="124.2" cy="93.8" r="10.9" fill="none" stroke="rgb(236,115,100)" stroke-width="0.55" stroke-opacity="0.24"/><circle cx="124.2" cy="93.8" r="12.9" fill="none" stroke="rgb(236,115,100)" stroke-width="0.55" stroke-opacity="0.24"/><circle cx="124.2" cy="93.8" r="7.8" fill="url(#hc7)"/><circle cx="96.1" cy="145.8" r="14.6" fill="url(#hc8h)"/><circle cx="96.1" cy="145.8" r="5.0" fill="none" stroke="rgb(236,115,100)" stroke-width="0.55" stroke-opacity="0.23"/><circle cx="96.1" cy="145.8" r="6.9" fill="none" stroke="rgb(236,115,100)" stroke-width="0.55" stroke-opacity="0.23"/><circle cx="96.1" cy="145.8" r="8.8" fill="none" stroke="rgb(236,115,100)" stroke-width="0.55" stroke-opacity="0.23"/><circle cx="96.1" cy="145.8" r="10.7" fill="none" stroke="rgb(236,115,100)" stroke-width="0.55" stroke-opacity="0.23"/><circle cx="96.1" cy="145.8" r="12.6" fill="none" stroke="rgb(236,115,100)" stroke-width="0.55" stroke-opacity="0.23"/><circle cx="96.1" cy="145.8" r="7.5" fill="url(#hc8)"/><circle cx="55.1" cy="87.0" r="12.6" fill="url(#hc9h)"/><circle cx="55.1" cy="87.0" r="4.3" fill="none" stroke="rgb(236,115,100)" stroke-width="0.55" stroke-opacity="0.17"/><circle cx="55.1" cy="87.0" r="5.9" fill="none" stroke="rgb(236,115,100)" stroke-width="0.55" stroke-opacity="0.17"/><circle cx="55.1" cy="87.0" r="7.6" fill="none" stroke="rgb(236,115,100)" stroke-width="0.55" stroke-opacity="0.17"/><circle cx="55.1" cy="87.0" r="9.2" fill="none" stroke="rgb(236,115,100)" stroke-width="0.55" stroke-opacity="0.17"/><circle cx="55.1" cy="87.0" r="10.8" fill="none" stroke="rgb(236,115,100)" stroke-width="0.55" stroke-opacity="0.17"/><circle cx="55.1" cy="87.0" r="6.1" fill="url(#hc9)"/><use href="#mkf"/><path stroke="none" d="M51.60 109.75 L48.85 104.25 L54.35 104.25 Z" fill="rgb(162,26,32)"/><path stroke="none" d="M136.00 132.55 L133.25 127.05 L138.75 127.05 Z" fill="rgb(141,19,28)"/><path stroke="none" d="M90.10 105.35 L87.35 99.85 L92.85 99.85 Z" fill="rgb(194,38,40)"/><path stroke="none" d="M84.40 118.35 L81.65 112.85 L87.15 112.85 Z" fill="rgb(194,38,40)"/><path stroke="none" d="M117.90 124.25 L115.15 118.75 L120.65 118.75 Z" fill="rgb(194,38,40)"/><path stroke="none" d="M97.50 76.75 L94.75 71.25 L100.25 71.25 Z" fill="rgb(223,77,69)"/><path stroke="none" d="M106.10 72.15 L103.35 66.65 L108.85 66.65 Z" fill="rgb(223,77,69)"/><path stroke="none" d="M124.20 96.55 L121.45 91.05 L126.95 91.05 Z" fill="rgb(223,77,69)"/><path stroke="none" d="M96.10 148.55 L93.35 143.05 L98.85 143.05 Z" fill="rgb(226,91,80)"/><path stroke="none" d="M55.10 89.75 L52.35 84.25 L57.85 84.25 Z" fill="rgb(237,138,116)"/><path stroke="none" d="M31.70 43.85 L28.95 49.35 L34.45 49.35 Z" fill="rgb(253,245,240)"/><path stroke="none" d="M81.10 31.85 L78.35 37.35 L83.85 37.35 Z" fill="rgb(252,241,234)"/><path stroke="none" d="M88.10 17.25 L85.35 22.75 L90.85 22.75 Z" fill="rgb(252,238,230)"/><path stroke="none" d="M34.30 135.35 L31.55 140.85 L37.05 140.85 Z" fill="rgb(255,252,250)"/><path stroke="none" d="M98.70 159.35 L95.95 164.85 L101.45 164.85 Z" fill="rgb(254,249,246)"/><circle stroke="none" cx="43.90" cy="90.00" r="2.85" fill="rgb(254,247,242)"/><circle stroke="none" cx="166.40" cy="59.90" r="2.85" fill="rgb(254,249,246)"/><path stroke="none" d="M142.20 94.65 L139.45 100.15 L144.95 100.15 Z" fill="rgb(254,247,242)"/><circle stroke="none" cx="7.70" cy="75.70" r="2.85" fill="rgb(252,238,230)"/><circle stroke="none" cx="67.60" cy="61.50" r="2.85" fill="rgb(252,238,230)"/><path stroke="none" d="M110.40 188.65 L107.65 194.15 L113.15 194.15 Z" fill="rgb(252,238,230)"/><path stroke="none" d="M124.90 139.85 L122.15 145.35 L127.65 145.35 Z" fill="rgb(252,238,230)"/><circle stroke="none" cx="133.80" cy="51.70" r="2.85" fill="rgb(252,238,230)"/><path stroke="none" d="M116.30 20.35 L113.55 25.85 L119.05 25.85 Z" fill="rgb(251,236,226)"/><use href="#bnd"/><use href="#mk"/></svg></div>
<div id="labc" class="t" style="left:60.09px;top:285.00px;font-size:10.00px;transform:scaleX(1.010);transform-origin:0 0;">(c)</div>
<div id="ttlc" class="t" style="left:124.53px;top:264.00px;font-size:10.40px;transform:scaleX(1.140);transform-origin:0 0;">Winter</div>
<div class="cb" style="left:233px;top:315px"></div>
<div class="tk" style="left:240px;top:316.3px;width:3px;height:1px"></div>
<div id="cbc0" class="t" style="left:245.42px;top:312.00px;font-size:9.60px;transform:scaleX(0.940);transform-origin:0 0;">459</div>
<div class="tk" style="left:240px;top:340.6px;width:3px;height:1px"></div>
<div id="cbc1" class="t" style="left:245.42px;top:336.00px;font-size:9.60px;transform:scaleX(0.940);transform-origin:0 0;">455</div>
<div class="tk" style="left:240px;top:364.9px;width:3px;height:1px"></div>
<div id="cbc2" class="t" style="left:245.42px;top:361.00px;font-size:9.60px;transform:scaleX(0.940);transform-origin:0 0;">452</div>
<div class="tk" style="left:240px;top:389.2px;width:3px;height:1px"></div>
<div id="cbc3" class="t" style="left:245.42px;top:385.00px;font-size:9.60px;transform:scaleX(0.940);transform-origin:0 0;">448</div>
<div class="tk" style="left:240px;top:413.5px;width:3px;height:1px"></div>
<div id="cbc4" class="t" style="left:245.42px;top:409.00px;font-size:9.60px;transform:scaleX(0.940);transform-origin:0 0;">445</div>
<div class="tk" style="left:240px;top:437.8px;width:3px;height:1px"></div>
<div id="cbc5" class="t" style="left:245.42px;top:434.00px;font-size:9.60px;transform:scaleX(0.940);transform-origin:0 0;">441</div>
<div style="position:absolute;left:271.70px;top:377.90px;width:0;height:0;transform:rotate(-90deg);"><div id="cblc" class="t" style="left:-28.91px;top:-9.09px;font-size:10.70px;transform:scaleX(1.133);transform-origin:0 0;">CO₂ (ppm)</div></div>
<div class="ax" style="left:275px;top:277px"><svg width="174" height="200" viewBox="0 0 174 200" style="position:absolute;left:0;top:0"><defs><linearGradient id="vgd" x1="0" y1="0" x2="0" y2="1"><stop offset="0" stop-color="#fff" stop-opacity="0.2"/><stop offset="0.45" stop-color="#fff" stop-opacity="0"/><stop offset="0.55" stop-color="rgb(235,135,105)" stop-opacity="0"/><stop offset="1" stop-color="rgb(235,135,105)" stop-opacity="0.2"/></linearGradient><radialGradient id="ctrd"><stop offset="0" stop-color="rgb(241,144,120)" stop-opacity="0.9"/><stop offset="0.55" stop-color="rgb(241,144,120)" stop-opacity="0.55"/><stop offset="1" stop-color="rgb(241,144,120)" stop-opacity="0"/></radialGradient><radialGradient id="cd0"><stop offset="0" stop-color="#fffaf6" stop-opacity="0.69"/><stop offset="0.3" stop-color="#fcf0e8" stop-opacity="0.47"/><stop offset="0.6" stop-color="#f8e2d5" stop-opacity="0.25"/><stop offset="0.82" stop-color="#f6d8c8" stop-opacity="0.09"/><stop offset="1" stop-color="#f5d0bd" stop-opacity="0"/></radialGradient><radialGradient id="cd1"><stop offset="0" stop-color="#fffaf6" stop-opacity="0.79"/><stop offset="0.3" stop-color="#fcf0e8" stop-opacity="0.58"/><stop offset="0.6" stop-color="#f8e2d5" stop-opacity="0.32"/><stop offset="0.82" stop-color="#f6d8c8" stop-opacity="0.11"/><stop offset="1" stop-color="#f5d0bd" stop-opacity="0"/></radialGradient><radialGradient id="cd2"><stop offset="0" stop-color="#fffaf6" stop-opacity="0.95"/><stop offset="0.3" stop-color="#fcf0e8" stop-opacity="0.78"/><stop offset="0.6" stop-color="#f8e2d5" stop-opacity="0.42"/><stop offset="0.82" stop-color="#f6d8c8" stop-opacity="0.15"/><stop offset="1" stop-color="#f5d0bd" stop-opacity="0"/></radialGradient><radialGradient id="cd3"><stop offset="0" stop-color="#fffaf6" stop-opacity="0.62"/><stop offset="0.3" stop-color="#fcf0e8" stop-opacity="0.39"/><stop offset="0.6" stop-color="#f8e2d5" stop-opacity="0.21"/><stop offset="0.82" stop-color="#f6d8c8" stop-opacity="0.07"/><stop offset="1" stop-color="#f5d0bd" stop-opacity="0"/></radialGradient><radialGradient id="cd4"><stop offset="0" stop-color="#fffaf6" stop-opacity="0.59"/><stop offset="0.3" stop-color="#fcf0e8" stop-opacity="0.35"/><stop offset="0.6" stop-color="#f8e2d5" stop-opacity="0.19"/><stop offset="0.82" stop-color="#f6d8c8" stop-opacity="0.07"/><stop offset="1" stop-color="#f5d0bd" stop-opacity="0"/></radialGradient><radialGradient id="cd5"><stop offset="0" stop-color="#fffaf6" stop-opacity="0.69"/><stop offset="0.3" stop-color="#fcf0e8" stop-opacity="0.47"/><stop offset="0.6" stop-color="#f8e2d5" stop-opacity="0.25"/><stop offset="0.82" stop-color="#f6d8c8" stop-opacity="0.09"/><stop offset="1" stop-color="#f5d0bd" stop-opacity="0"/></radialGradient><radialGradient id="cd6"><stop offset="0" stop-color="#fffaf6" stop-opacity="0.53"/><stop offset="0.3" stop-color="#fcf0e8" stop-opacity="0.27"/><stop offset="0.6" stop-color="#f8e2d5" stop-opacity="0.15"/><stop offset="0.82" stop-color="#f6d8c8" stop-opacity="0.05"/><stop offset="1" stop-color="#f5d0bd" stop-opacity="0"/></radialGradient><radialGradient id="cd7"><stop offset="0" stop-color="#fffaf6" stop-opacity="0.53"/><stop offset="0.3" stop-color="#fcf0e8" stop-opacity="0.27"/><stop offset="0.6" stop-color="#f8e2d5" stop-opacity="0.15"/><stop offset="0.82" stop-color="#f6d8c8" stop-opacity="0.05"/><stop offset="1" stop-color="#f5d0bd" stop-opacity="0"/></radialGradient><radialGradient id="cd8"><stop offset="0" stop-color="#fffaf6" stop-opacity="0.49"/><stop offset="0.3" stop-color="#fcf0e8" stop-opacity="0.23"/><stop offset="0.6" stop-color="#f8e2d5" stop-opacity="0.13"/><stop offset="0.82" stop-color="#f6d8c8" stop-opacity="0.04"/><stop offset="1" stop-color="#f5d0bd" stop-opacity="0"/></radialGradient><radialGradient id="cd9"><stop offset="0" stop-color="#fffaf6" stop-opacity="0.59"/><stop offset="0.3" stop-color="#fcf0e8" stop-opacity="0.35"/><stop offset="0.6" stop-color="#f8e2d5" stop-opacity="0.19"/><stop offset="0.82" stop-color="#f6d8c8" stop-opacity="0.07"/><stop offset="1" stop-color="#f5d0bd" stop-opacity="0"/></radialGradient><radialGradient id="cd10"><stop offset="0" stop-color="#fffaf6" stop-opacity="0.59"/><stop offset="0.3" stop-color="#fcf0e8" stop-opacity="0.35"/><stop offset="0.6" stop-color="#f8e2d5" stop-opacity="0.19"/><stop offset="0.82" stop-color="#f6d8c8" stop-opacity="0.07"/><stop offset="1" stop-color="#f5d0bd" stop-opacity="0"/></radialGradient><radialGradient id="cd11"><stop offset="0" stop-color="#fffaf6" stop-opacity="0.46"/><stop offset="0.3" stop-color="#fcf0e8" stop-opacity="0.20"/><stop offset="0.6" stop-color="#f8e2d5" stop-opacity="0.10"/><stop offset="0.82" stop-color="#f6d8c8" stop-opacity="0.04"/><stop offset="1" stop-color="#f5d0bd" stop-opacity="0"/></radialGradient><radialGradient id="cd12"><stop offset="0" stop-color="#fffaf6" stop-opacity="0.46"/><stop offset="0.3" stop-color="#fcf0e8" stop-opacity="0.20"/><stop offset="0.6" stop-color="#f8e2d5" stop-opacity="0.10"/><stop offset="0.82" stop-color="#f6d8c8" stop-opacity="0.04"/><stop offset="1" stop-color="#f5d0bd" stop-opacity="0"/></radialGradient><radialGradient id="cd13"><stop offset="0" stop-color="#fffaf6" stop-opacity="0.46"/><stop offset="0.3" stop-color="#fcf0e8" stop-opacity="0.20"/><stop offset="0.6" stop-color="#f8e2d5" stop-opacity="0.10"/><stop offset="0.82" stop-color="#f6d8c8" stop-opacity="0.04"/><stop offset="1" stop-color="#f5d0bd" stop-opacity="0"/></radialGradient><radialGradient id="cd14"><stop offset="0" stop-color="#fffaf6" stop-opacity="0.46"/><stop offset="0.3" stop-color="#fcf0e8" stop-opacity="0.20"/><stop offset="0.6" stop-color="#f8e2d5" stop-opacity="0.10"/><stop offset="0.82" stop-color="#f6d8c8" stop-opacity="0.04"/><stop offset="1" stop-color="#f5d0bd" stop-opacity="0"/></radialGradient><radialGradient id="hd0h"><stop offset="0" stop-color="rgb(238,105,85)" stop-opacity="0.64"/><stop offset="0.5" stop-color="rgb(240,125,105)" stop-opacity="0.39"/><stop offset="0.8" stop-color="rgb(242,140,118)" stop-opacity="0.16"/><stop offset="1" stop-color="rgb(242,150,128)" stop-opacity="0"/></radialGradient><radialGradient id="hd0"><stop offset="0" stop-color="rgb(164,13,22)" stop-opacity="1"/><stop offset="0.3" stop-color="rgb(223,45,40)" stop-opacity="0.98"/><stop offset="0.6" stop-color="rgb(238,100,80)" stop-opacity="0.48"/><stop offset="1" stop-color="rgb(240,125,105)" stop-opacity="0"/></radialGradient><radialGradient id="hd1h"><stop offset="0" stop-color="rgb(238,105,85)" stop-opacity="0.67"/><stop offset="0.5" stop-color="rgb(240,125,105)" stop-opacity="0.41"/><stop offset="0.8" stop-color="rgb(242,140,118)" stop-opacity="0.17"/><stop offset="1" stop-color="rgb(242,150,128)" stop-opacity="0"/></radialGradient><radialGradient id="hd1"><stop offset="0" stop-color="rgb(160,10,20)" stop-opacity="1"/><stop offset="0.3" stop-color="rgb(222,42,38)" stop-opacity="1.00"/><stop offset="0.6" stop-color="rgb(238,100,80)" stop-opacity="0.50"/><stop offset="1" stop-color="rgb(240,125,105)" stop-opacity="0"/></radialGradient><radialGradient id="hd2h"><stop offset="0" stop-color="rgb(238,105,85)" stop-opacity="0.45"/><stop offset="0.5" stop-color="rgb(240,125,105)" stop-opacity="0.27"/><stop offset="0.8" stop-color="rgb(242,140,118)" stop-opacity="0.11"/><stop offset="1" stop-color="rgb(242,150,128)" stop-opacity="0"/></radialGradient><radialGradient id="hd2"><stop offset="0" stop-color="rgb(190,36,36)" stop-opacity="1"/><stop offset="0.3" stop-color="rgb(228,63,53)" stop-opacity="0.86"/><stop offset="0.6" stop-color="rgb(238,100,80)" stop-opacity="0.38"/><stop offset="1" stop-color="rgb(240,125,105)" stop-opacity="0"/></radialGradient><radialGradient id="hd3h"><stop offset="0" stop-color="rgb(238,105,85)" stop-opacity="0.45"/><stop offset="0.5" stop-color="rgb(240,125,105)" stop-opacity="0.27"/><stop offset="0.8" stop-color="rgb(242,140,118)" stop-opacity="0.11"/><stop offset="1" stop-color="rgb(242,150,128)" stop-opacity="0"/></radialGradient><radialGradient id="hd3"><stop offset="0" stop-color="rgb(190,36,36)" stop-opacity="1"/><stop offset="0.3" stop-color="rgb(228,63,53)" stop-opacity="0.86"/><stop offset="0.6" stop-color="rgb(238,100,80)" stop-opacity="0.38"/><stop offset="1" stop-color="rgb(240,125,105)" stop-opacity="0"/></radialGradient><radialGradient id="hd4h"><stop offset="0" stop-color="rgb(238,105,85)" stop-opacity="0.56"/><stop offset="0.5" stop-color="rgb(240,125,105)" stop-opacity="0.34"/><stop offset="0.8" stop-color="rgb(242,140,118)" stop-opacity="0.14"/><stop offset="1" stop-color="rgb(242,150,128)" stop-opacity="0"/></radialGradient><radialGradient id="hd4"><stop offset="0" stop-color="rgb(175,23,28)" stop-opacity="1"/><stop offset="0.3" stop-color="rgb(225,53,45)" stop-opacity="0.93"/><stop offset="0.6" stop-color="rgb(238,100,80)" stop-opacity="0.44"/><stop offset="1" stop-color="rgb(240,125,105)" stop-opacity="0"/></radialGradient><radialGradient id="hd5h"><stop offset="0" stop-color="rgb(238,105,85)" stop-opacity="0.59"/><stop offset="0.5" stop-color="rgb(240,125,105)" stop-opacity="0.36"/><stop offset="0.8" stop-color="rgb(242,140,118)" stop-opacity="0.15"/><stop offset="1" stop-color="rgb(242,150,128)" stop-opacity="0"/></radialGradient><radialGradient id="hd5"><stop offset="0" stop-color="rgb(171,20,26)" stop-opacity="1"/><stop offset="0.3" stop-color="rgb(224,50,44)" stop-opacity="0.95"/><stop offset="0.6" stop-color="rgb(238,100,80)" stop-opacity="0.46"/><stop offset="1" stop-color="rgb(240,125,105)" stop-opacity="0"/></radialGradient><radialGradient id="hd6h"><stop offset="0" stop-color="rgb(238,105,85)" stop-opacity="0.56"/><stop offset="0.5" stop-color="rgb(240,125,105)" stop-opacity="0.34"/><stop offset="0.8" stop-color="rgb(242,140,118)" stop-opacity="0.14"/><stop offset="1" stop-color="rgb(242,150,128)" stop-opacity="0"/></radialGradient><radialGradient id="hd6"><stop offset="0" stop-color="rgb(175,23,28)" stop-opacity="1"/><stop offset="0.3" stop-color="rgb(225,53,45)" stop-opacity="0.93"/><stop offset="0.6" stop-color="rgb(238,100,80)" stop-opacity="0.44"/><stop offset="1" stop-color="rgb(240,125,105)" stop-opacity="0"/></radialGradient><radialGradient id="hd7h"><stop offset="0" stop-color="rgb(238,105,85)" stop-opacity="0.56"/><stop offset="0.5" stop-color="rgb(240,125,105)" stop-opacity="0.34"/><stop offset="0.8" stop-color="rgb(242,140,118)" stop-opacity="0.14"/><stop offset="1" stop-color="rgb(242,150,128)" stop-opacity="0"/></radialGradient><radialGradient id="hd7"><stop offset="0" stop-color="rgb(175,23,28)" stop-opacity="1"/><stop offset="0.3" stop-color="rgb(225,53,45)" stop-opacity="0.93"/><stop offset="0.6" stop-color="rgb(238,100,80)" stop-opacity="0.44"/><stop offset="1" stop-color="rgb(240,125,105)" stop-opacity="0"/></radialGradient><radialGradient id="hd8h"><stop offset="0" stop-color="rgb(238,105,85)" stop-opacity="0.53"/><stop offset="0.5" stop-color="rgb(240,125,105)" stop-opacity="0.32"/><stop offset="0.8" stop-color="rgb(242,140,118)" stop-opacity="0.14"/><stop offset="1" stop-color="rgb(242,150,128)" stop-opacity="0"/></radialGradient><radialGradient id="hd8"><stop offset="0" stop-color="rgb(178,26,30)" stop-opacity="1"/><stop offset="0.3" stop-color="rgb(226,55,47)" stop-opacity="0.91"/><stop offset="0.6" stop-color="rgb(238,100,80)" stop-opacity="0.42"/><stop offset="1" stop-color="rgb(240,125,105)" stop-opacity="0"/></radialGradient><radialGradient id="hd9h"><stop offset="0" stop-color="rgb(238,105,85)" stop-opacity="0.40"/><stop offset="0.5" stop-color="rgb(240,125,105)" stop-opacity="0.23"/><stop offset="0.8" stop-color="rgb(242,140,118)" stop-opacity="0.10"/><stop offset="1" stop-color="rgb(242,150,128)" stop-opacity="0"/></radialGradient><radialGradient id="hd9"><stop offset="0" stop-color="rgb(197,42,40)" stop-opacity="1"/><stop offset="0.3" stop-color="rgb(230,68,56)" stop-opacity="0.82"/><stop offset="0.6" stop-color="rgb(238,100,80)" stop-opacity="0.35"/><stop offset="1" stop-color="rgb(240,125,105)" stop-opacity="0"/></radialGradient><radialGradient id="hd10h"><stop offset="0" stop-color="rgb(238,105,85)" stop-opacity="0.37"/><stop offset="0.5" stop-color="rgb(240,125,105)" stop-opacity="0.22"/><stop offset="0.8" stop-color="rgb(242,140,118)" stop-opacity="0.09"/><stop offset="1" stop-color="rgb(242,150,128)" stop-opacity="0"/></radialGradient><radialGradient id="hd10"><stop offset="0" stop-color="rgb(201,46,42)" stop-opacity="1"/><stop offset="0.3" stop-color="rgb(231,71,58)" stop-opacity="0.81"/><stop offset="0.6" stop-color="rgb(238,100,80)" stop-opacity="0.34"/><stop offset="1" stop-color="rgb(240,125,105)" stop-opacity="0"/></radialGradient><radialGradient id="hd11h"><stop offset="0" stop-color="rgb(238,105,85)" stop-opacity="0.31"/><stop offset="0.5" stop-color="rgb(240,125,105)" stop-opacity="0.18"/><stop offset="0.8" stop-color="rgb(242,140,118)" stop-opacity="0.08"/><stop offset="1" stop-color="rgb(242,150,128)" stop-opacity="0"/></radialGradient><radialGradient id="hd11"><stop offset="0" stop-color="rgb(208,52,46)" stop-opacity="1"/><stop offset="0.3" stop-color="rgb(232,76,62)" stop-opacity="0.77"/><stop offset="0.6" stop-color="rgb(238,100,80)" stop-opacity="0.30"/><stop offset="1" stop-color="rgb(240,125,105)" stop-opacity="0"/></radialGradient><radialGradient id="hd12h"><stop offset="0" stop-color="rgb(238,105,85)" stop-opacity="0.29"/><stop offset="0.5" stop-color="rgb(240,125,105)" stop-opacity="0.16"/><stop offset="0.8" stop-color="rgb(242,140,118)" stop-opacity="0.07"/><stop offset="1" stop-color="rgb(242,150,128)" stop-opacity="0"/></radialGradient><radialGradient id="hd12"><stop offset="0" stop-color="rgb(212,56,48)" stop-opacity="1"/><stop offset="0.3" stop-color="rgb(233,79,64)" stop-opacity="0.76"/><stop offset="0.6" stop-color="rgb(238,100,80)" stop-opacity="0.29"/><stop offset="1" stop-color="rgb(240,125,105)" stop-opacity="0"/></radialGradient></defs><rect x="-2" y="-2" width="180" height="205" fill="rgb(240,161,139)"/><rect x="-2" y="-2" width="180" height="205" fill="url(#vgd)"/><use href="#mapl"/><ellipse cx="95.5" cy="101.6" rx="62" ry="58" fill="url(#ctrd)"/><circle cx="166.4" cy="59.9" r="16.6" fill="url(#cd0)"/><circle cx="166.4" cy="59.9" r="9.1" fill="none" stroke="rgb(238,160,140)" stroke-width="0.5" stroke-opacity="0.19"/><circle cx="166.4" cy="59.9" r="12.5" fill="none" stroke="rgb(238,160,140)" stroke-width="0.5" stroke-opacity="0.19"/><circle cx="166.4" cy="59.9" r="15.8" fill="none" stroke="rgb(238,160,140)" stroke-width="0.5" stroke-opacity="0.19"/><circle cx="142.2" cy="97.4" r="18.2" fill="url(#cd1)"/><circle cx="142.2" cy="97.4" r="10.0" fill="none" stroke="rgb(238,160,140)" stroke-width="0.5" stroke-opacity="0.21"/><circle cx="142.2" cy="97.4" r="13.7" fill="none" stroke="rgb(238,160,140)" stroke-width="0.5" stroke-opacity="0.21"/><circle cx="142.2" cy="97.4" r="17.3" fill="none" stroke="rgb(238,160,140)" stroke-width="0.5" stroke-opacity="0.21"/><circle cx="34.3" cy="138.1" r="21.0" fill="url(#cd2)"/><circle cx="34.3" cy="138.1" r="11.6" fill="none" stroke="rgb(238,160,140)" stroke-width="0.5" stroke-opacity="0.25"/><circle cx="34.3" cy="138.1" r="15.8" fill="none" stroke="rgb(238,160,140)" stroke-width="0.5" stroke-opacity="0.25"/><circle cx="34.3" cy="138.1" r="19.9" fill="none" stroke="rgb(238,160,140)" stroke-width="0.5" stroke-opacity="0.25"/><circle cx="31.7" cy="46.6" r="15.5" fill="url(#cd3)"/><circle cx="31.7" cy="46.6" r="8.5" fill="none" stroke="rgb(238,160,140)" stroke-width="0.5" stroke-opacity="0.17"/><circle cx="31.7" cy="46.6" r="11.6" fill="none" stroke="rgb(238,160,140)" stroke-width="0.5" stroke-opacity="0.17"/><circle cx="31.7" cy="46.6" r="14.7" fill="none" stroke="rgb(238,160,140)" stroke-width="0.5" stroke-opacity="0.17"/><circle cx="81.1" cy="34.6" r="14.9" fill="url(#cd4)"/><circle cx="81.1" cy="34.6" r="8.2" fill="none" stroke="rgb(238,160,140)" stroke-width="0.5" stroke-opacity="0.17"/><circle cx="81.1" cy="34.6" r="11.2" fill="none" stroke="rgb(238,160,140)" stroke-width="0.5" stroke-opacity="0.17"/><circle cx="81.1" cy="34.6" r="14.2" fill="none" stroke="rgb(238,160,140)" stroke-width="0.5" stroke-opacity="0.17"/><circle cx="98.7" cy="162.1" r="16.6" fill="url(#cd5)"/><circle cx="98.7" cy="162.1" r="9.1" fill="none" stroke="rgb(238,160,140)" stroke-width="0.5" stroke-opacity="0.19"/><circle cx="98.7" cy="162.1" r="12.5" fill="none" stroke="rgb(238,160,140)" stroke-width="0.5" stroke-opacity="0.19"/><circle cx="98.7" cy="162.1" r="15.8" fill="none" stroke="rgb(238,160,140)" stroke-width="0.5" stroke-opacity="0.19"/><circle cx="133.8" cy="51.7" r="13.8" fill="url(#cd6)"/><circle cx="88.1" cy="20.0" r="13.8" fill="url(#cd7)"/><circle cx="116.3" cy="23.1" r="13.3" fill="url(#cd8)"/><circle cx="110.4" cy="191.4" r="14.9" fill="url(#cd9)"/><circle cx="110.4" cy="191.4" r="8.2" fill="none" stroke="rgb(238,160,140)" stroke-width="0.5" stroke-opacity="0.17"/><circle cx="110.4" cy="191.4" r="11.2" fill="none" stroke="rgb(238,160,140)" stroke-width="0.5" stroke-opacity="0.17"/><circle cx="110.4" cy="191.4" r="14.2" fill="none" stroke="rgb(238,160,140)" stroke-width="0.5" stroke-opacity="0.17"/><circle cx="124.9" cy="142.6" r="14.9" fill="url(#cd10)"/><circle cx="124.9" cy="142.6" r="8.2" fill="none" stroke="rgb(238,160,140)" stroke-width="0.5" stroke-opacity="0.17"/><circle cx="124.9" cy="142.6" r="11.2" fill="none" stroke="rgb(238,160,140)" stroke-width="0.5" stroke-opacity="0.17"/><circle cx="124.9" cy="142.6" r="14.2" fill="none" stroke="rgb(238,160,140)" stroke-width="0.5" stroke-opacity="0.17"/><circle cx="43.9" cy="90.0" r="12.8" fill="url(#cd11)"/><circle cx="7.7" cy="75.7" r="12.8" fill="url(#cd12)"/><circle cx="67.6" cy="61.5" r="12.8" fill="url(#cd13)"/><circle cx="102.7" cy="104.2" r="12.8" fill="url(#cd14)"/><circle cx="96.1" cy="145.8" r="18.6" fill="url(#hd0h)"/><circle cx="96.1" cy="145.8" r="6.3" fill="none" stroke="rgb(236,115,100)" stroke-width="0.55" stroke-opacity="0.36"/><circle cx="96.1" cy="145.8" r="8.7" fill="none" stroke="rgb(236,115,100)" stroke-width="0.55" stroke-opacity="0.36"/><circle cx="96.1" cy="145.8" r="11.2" fill="none" stroke="rgb(236,115,100)" stroke-width="0.55" stroke-opacity="0.36"/><circle cx="96.1" cy="145.8" r="13.6" fill="none" stroke="rgb(236,115,100)" stroke-width="0.55" stroke-opacity="0.36"/><circle cx="96.1" cy="145.8" r="16.0" fill="none" stroke="rgb(236,115,100)" stroke-width="0.55" stroke-opacity="0.36"/><circle cx="96.1" cy="145.8" r="10.2" fill="url(#hd0)"/><circle cx="106.1" cy="69.4" r="19.0" fill="url(#hd1h)"/><circle cx="106.1" cy="69.4" r="6.5" fill="none" stroke="rgb(236,115,100)" stroke-width="0.55" stroke-opacity="0.37"/><circle cx="106.1" cy="69.4" r="8.9" fill="none" stroke="rgb(236,115,100)" stroke-width="0.55" stroke-opacity="0.37"/><circle cx="106.1" cy="69.4" r="11.4" fill="none" stroke="rgb(236,115,100)" stroke-width="0.55" stroke-opacity="0.37"/><circle cx="106.1" cy="69.4" r="13.9" fill="none" stroke="rgb(236,115,100)" stroke-width="0.55" stroke-opacity="0.37"/><circle cx="106.1" cy="69.4" r="16.3" fill="none" stroke="rgb(236,115,100)" stroke-width="0.55" stroke-opacity="0.37"/><circle cx="106.1" cy="69.4" r="10.5" fill="url(#hd1)"/><circle cx="97.5" cy="74.0" r="15.8" fill="url(#hd2h)"/><circle cx="97.5" cy="74.0" r="5.4" fill="none" stroke="rgb(236,115,100)" stroke-width="0.55" stroke-opacity="0.27"/><circle cx="97.5" cy="74.0" r="7.4" fill="none" stroke="rgb(236,115,100)" stroke-width="0.55" stroke-opacity="0.27"/><circle cx="97.5" cy="74.0" r="9.5" fill="none" stroke="rgb(236,115,100)" stroke-width="0.55" stroke-opacity="0.27"/><circle cx="97.5" cy="74.0" r="11.5" fill="none" stroke="rgb(236,115,100)" stroke-width="0.55" stroke-opacity="0.27"/><circle cx="97.5" cy="74.0" r="13.6" fill="none" stroke="rgb(236,115,100)" stroke-width="0.55" stroke-opacity="0.27"/><circle cx="97.5" cy="74.0" r="8.3" fill="url(#hd2)"/><circle cx="72.0" cy="78.2" r="15.8" fill="url(#hd3h)"/><circle cx="72.0" cy="78.2" r="5.4" fill="none" stroke="rgb(236,115,100)" stroke-width="0.55" stroke-opacity="0.27"/><circle cx="72.0" cy="78.2" r="7.4" fill="none" stroke="rgb(236,115,100)" stroke-width="0.55" stroke-opacity="0.27"/><circle cx="72.0" cy="78.2" r="9.5" fill="none" stroke="rgb(236,115,100)" stroke-width="0.55" stroke-opacity="0.27"/><circle cx="72.0" cy="78.2" r="11.5" fill="none" stroke="rgb(236,115,100)" stroke-width="0.55" stroke-opacity="0.27"/><circle cx="72.0" cy="78.2" r="13.6" fill="none" stroke="rgb(236,115,100)" stroke-width="0.55" stroke-opacity="0.27"/><circle cx="72.0" cy="78.2" r="8.3" fill="url(#hd3)"/><circle cx="124.2" cy="93.8" r="17.4" fill="url(#hd4h)"/><circle cx="124.2" cy="93.8" r="5.9" fill="none" stroke="rgb(236,115,100)" stroke-width="0.55" stroke-opacity="0.32"/><circle cx="124.2" cy="93.8" r="8.2" fill="none" stroke="rgb(236,115,100)" stroke-width="0.55" stroke-opacity="0.32"/><circle cx="124.2" cy="93.8" r="10.4" fill="none" stroke="rgb(236,115,100)" stroke-width="0.55" stroke-opacity="0.32"/><circle cx="124.2" cy="93.8" r="12.7" fill="none" stroke="rgb(236,115,100)" stroke-width="0.55" stroke-opacity="0.32"/><circle cx="124.2" cy="93.8" r="15.0" fill="none" stroke="rgb(236,115,100)" stroke-width="0.55" stroke-opacity="0.32"/><circle cx="124.2" cy="93.8" r="9.4" fill="url(#hd4)"/><circle cx="90.1" cy="102.6" r="17.8" fill="url(#hd5h)"/><circle cx="90.1" cy="102.6" r="6.1" fill="none" stroke="rgb(236,115,100)" stroke-width="0.55" stroke-opacity="0.33"/><circle cx="90.1" cy="102.6" r="8.4" fill="none" stroke="rgb(236,115,100)" stroke-width="0.55" stroke-opacity="0.33"/><circle cx="90.1" cy="102.6" r="10.7" fill="none" stroke="rgb(236,115,100)" stroke-width="0.55" stroke-opacity="0.33"/><circle cx="90.1" cy="102.6" r="13.0" fill="none" stroke="rgb(236,115,100)" stroke-width="0.55" stroke-opacity="0.33"/><circle cx="90.1" cy="102.6" r="15.3" fill="none" stroke="rgb(236,115,100)" stroke-width="0.55" stroke-opacity="0.33"/><circle cx="90.1" cy="102.6" r="9.7" fill="url(#hd5)"/><circle cx="94.5" cy="114.8" r="17.4" fill="url(#hd6h)"/><circle cx="94.5" cy="114.8" r="5.9" fill="none" stroke="rgb(236,115,100)" stroke-width="0.55" stroke-opacity="0.32"/><circle cx="94.5" cy="114.8" r="8.2" fill="none" stroke="rgb(236,115,100)" stroke-width="0.55" stroke-opacity="0.32"/><circle cx="94.5" cy="114.8" r="10.4" fill="none" stroke="rgb(236,115,100)" stroke-width="0.55" stroke-opacity="0.32"/><circle cx="94.5" cy="114.8" r="12.7" fill="none" stroke="rgb(236,115,100)" stroke-width="0.55" stroke-opacity="0.32"/><circle cx="94.5" cy="114.8" r="15.0" fill="none" stroke="rgb(236,115,100)" stroke-width="0.55" stroke-opacity="0.32"/><circle cx="94.5" cy="114.8" r="9.4" fill="url(#hd6)"/><circle cx="117.9" cy="121.5" r="17.4" fill="url(#hd7h)"/><circle cx="117.9" cy="121.5" r="5.9" fill="none" stroke="rgb(236,115,100)" stroke-width="0.55" stroke-opacity="0.32"/><circle cx="117.9" cy="121.5" r="8.2" fill="none" stroke="rgb(236,115,100)" stroke-width="0.55" stroke-opacity="0.32"/><circle cx="117.9" cy="121.5" r="10.4" fill="none" stroke="rgb(236,115,100)" stroke-width="0.55" stroke-opacity="0.32"/><circle cx="117.9" cy="121.5" r="12.7" fill="none" stroke="rgb(236,115,100)" stroke-width="0.55" stroke-opacity="0.32"/><circle cx="117.9" cy="121.5" r="15.0" fill="none" stroke="rgb(236,115,100)" stroke-width="0.55" stroke-opacity="0.32"/><circle cx="117.9" cy="121.5" r="9.4" fill="url(#hd7)"/><circle cx="51.6" cy="107.0" r="17.0" fill="url(#hd8h)"/><circle cx="51.6" cy="107.0" r="5.8" fill="none" stroke="rgb(236,115,100)" stroke-width="0.55" stroke-opacity="0.31"/><circle cx="51.6" cy="107.0" r="8.0" fill="none" stroke="rgb(236,115,100)" stroke-width="0.55" stroke-opacity="0.31"/><circle cx="51.6" cy="107.0" r="10.2" fill="none" stroke="rgb(236,115,100)" stroke-width="0.55" stroke-opacity="0.31"/><circle cx="51.6" cy="107.0" r="12.4" fill="none" stroke="rgb(236,115,100)" stroke-width="0.55" stroke-opacity="0.31"/><circle cx="51.6" cy="107.0" r="14.6" fill="none" stroke="rgb(236,115,100)" stroke-width="0.55" stroke-opacity="0.31"/><circle cx="51.6" cy="107.0" r="9.1" fill="url(#hd8)"/><circle cx="136.0" cy="129.8" r="15.0" fill="url(#hd9h)"/><circle cx="136.0" cy="129.8" r="5.1" fill="none" stroke="rgb(236,115,100)" stroke-width="0.55" stroke-opacity="0.24"/><circle cx="136.0" cy="129.8" r="7.0" fill="none" stroke="rgb(236,115,100)" stroke-width="0.55" stroke-opacity="0.24"/><circle cx="136.0" cy="129.8" r="9.0" fill="none" stroke="rgb(236,115,100)" stroke-width="0.55" stroke-opacity="0.24"/><circle cx="136.0" cy="129.8" r="10.9" fill="none" stroke="rgb(236,115,100)" stroke-width="0.55" stroke-opacity="0.24"/><circle cx="136.0" cy="129.8" r="12.9" fill="none" stroke="rgb(236,115,100)" stroke-width="0.55" stroke-opacity="0.24"/><circle cx="136.0" cy="129.8" r="7.8" fill="url(#hd9)"/><circle cx="84.4" cy="115.6" r="14.6" fill="url(#hd10h)"/><circle cx="84.4" cy="115.6" r="5.0" fill="none" stroke="rgb(236,115,100)" stroke-width="0.55" stroke-opacity="0.23"/><circle cx="84.4" cy="115.6" r="6.9" fill="none" stroke="rgb(236,115,100)" stroke-width="0.55" stroke-opacity="0.23"/><circle cx="84.4" cy="115.6" r="8.8" fill="none" stroke="rgb(236,115,100)" stroke-width="0.55" stroke-opacity="0.23"/><circle cx="84.4" cy="115.6" r="10.7" fill="none" stroke="rgb(236,115,100)" stroke-width="0.55" stroke-opacity="0.23"/><circle cx="84.4" cy="115.6" r="12.6" fill="none" stroke="rgb(236,115,100)" stroke-width="0.55" stroke-opacity="0.23"/><circle cx="84.4" cy="115.6" r="7.5" fill="url(#hd10)"/><circle cx="55.1" cy="87.0" r="13.8" fill="url(#hd11h)"/><circle cx="55.1" cy="87.0" r="4.7" fill="none" stroke="rgb(236,115,100)" stroke-width="0.55" stroke-opacity="0.21"/><circle cx="55.1" cy="87.0" r="6.5" fill="none" stroke="rgb(236,115,100)" stroke-width="0.55" stroke-opacity="0.21"/><circle cx="55.1" cy="87.0" r="8.3" fill="none" stroke="rgb(236,115,100)" stroke-width="0.55" stroke-opacity="0.21"/><circle cx="55.1" cy="87.0" r="10.1" fill="none" stroke="rgb(236,115,100)" stroke-width="0.55" stroke-opacity="0.21"/><circle cx="55.1" cy="87.0" r="11.9" fill="none" stroke="rgb(236,115,100)" stroke-width="0.55" stroke-opacity="0.21"/><circle cx="55.1" cy="87.0" r="6.9" fill="url(#hd11)"/><circle cx="130.5" cy="138.0" r="13.4" fill="url(#hd12h)"/><circle cx="130.5" cy="138.0" r="4.6" fill="none" stroke="rgb(236,115,100)" stroke-width="0.55" stroke-opacity="0.20"/><circle cx="130.5" cy="138.0" r="6.3" fill="none" stroke="rgb(236,115,100)" stroke-width="0.55" stroke-opacity="0.20"/><circle cx="130.5" cy="138.0" r="8.0" fill="none" stroke="rgb(236,115,100)" stroke-width="0.55" stroke-opacity="0.20"/><circle cx="130.5" cy="138.0" r="9.8" fill="none" stroke="rgb(236,115,100)" stroke-width="0.55" stroke-opacity="0.20"/><circle cx="130.5" cy="138.0" r="11.5" fill="none" stroke="rgb(236,115,100)" stroke-width="0.55" stroke-opacity="0.20"/><circle cx="130.5" cy="138.0" r="6.7" fill="url(#hd12)"/><use href="#mkf"/><path stroke="none" d="M96.10 148.55 L93.35 143.05 L98.85 143.05 Z" fill="rgb(141,19,28)"/><path stroke="none" d="M106.10 72.15 L103.35 66.65 L108.85 66.65 Z" fill="rgb(130,15,25)"/><path stroke="none" d="M97.50 76.75 L94.75 71.25 L100.25 71.25 Z" fill="rgb(215,45,45)"/><path stroke="none" d="M72.00 80.95 L69.25 75.45 L74.75 75.45 Z" fill="rgb(215,45,45)"/><path stroke="none" d="M124.20 96.55 L121.45 91.05 L126.95 91.05 Z" fill="rgb(172,30,35)"/><path stroke="none" d="M90.10 105.35 L87.35 99.85 L92.85 99.85 Z" fill="rgb(162,26,32)"/><path stroke="none" d="M94.50 117.55 L91.75 112.05 L97.25 112.05 Z" fill="rgb(172,30,35)"/><path stroke="none" d="M117.90 124.25 L115.15 118.75 L120.65 118.75 Z" fill="rgb(172,30,35)"/><path stroke="none" d="M51.60 109.75 L48.85 104.25 L54.35 104.25 Z" fill="rgb(183,34,38)"/><path stroke="none" d="M136.00 132.55 L133.25 127.05 L138.75 127.05 Z" fill="rgb(223,77,69)"/><path stroke="none" d="M84.40 118.35 L81.65 112.85 L87.15 112.85 Z" fill="rgb(226,91,80)"/><path stroke="none" d="M55.10 89.75 L52.35 84.25 L57.85 84.25 Z" fill="rgb(231,114,98)"/><path stroke="none" d="M130.50 140.75 L127.75 135.25 L133.25 135.25 Z" fill="rgb(234,124,105)"/><circle stroke="none" cx="166.40" cy="59.90" r="2.85" fill="rgb(252,241,234)"/><path stroke="none" d="M142.20 94.65 L139.45 100.15 L144.95 100.15 Z" fill="rgb(253,245,240)"/><path stroke="none" d="M34.30 135.35 L31.55 140.85 L37.05 140.85 Z" fill="rgb(255,252,250)"/><path stroke="none" d="M31.70 43.85 L28.95 49.35 L34.45 49.35 Z" fill="rgb(252,238,230)"/><path stroke="none" d="M81.10 31.85 L78.35 37.35 L83.85 37.35 Z" fill="rgb(251,237,228)"/><path stroke="none" d="M98.70 159.35 L95.95 164.85 L101.45 164.85 Z" fill="rgb(252,241,234)"/><circle stroke="none" cx="133.80" cy="51.70" r="2.85" fill="rgb(250,234,224)"/><path stroke="none" d="M88.10 17.25 L85.35 22.75 L90.85 22.75 Z" fill="rgb(250,234,224)"/><path stroke="none" d="M116.30 20.35 L113.55 25.85 L119.05 25.85 Z" fill="rgb(250,233,222)"/><path stroke="none" d="M110.40 188.65 L107.65 194.15 L113.15 194.15 Z" fill="rgb(251,237,228)"/><path stroke="none" d="M124.90 139.85 L122.15 145.35 L127.65 145.35 Z" fill="rgb(251,237,228)"/><circle stroke="none" cx="43.90" cy="90.00" r="2.85" fill="rgb(250,232,220)"/><circle stroke="none" cx="7.70" cy="75.70" r="2.85" fill="rgb(250,232,220)"/><circle stroke="none" cx="67.60" cy="61.50" r="2.85" fill="rgb(250,232,220)"/><circle stroke="none" cx="102.70" cy="104.20" r="2.85" fill="rgb(250,232,220)"/><use href="#bnd"/><use href="#mk"/></svg></div>
<div id="labd" class="t" style="left:281.09px;top:285.00px;font-size:10.00px;transform:scaleX(1.010);transform-origin:0 0;">(d)</div>
<div id="ttld" class="t" style="left:345.53px;top:264.00px;font-size:10.40px;transform:scaleX(1.140);transform-origin:0 0;">Spring</div>
<div class="cb" style="left:454px;top:315px"></div>
<div class="tk" style="left:461px;top:316.7px;width:3px;height:1px"></div>
<div id="cbd0" class="t" style="left:466.42px;top:313.00px;font-size:9.60px;transform:scaleX(0.940);transform-origin:0 0;">438</div>
<div class="tk" style="left:461px;top:340.8px;width:3px;height:1px"></div>
<div id="cbd1" class="t" style="left:466.42px;top:337.00px;font-size:9.60px;transform:scaleX(0.940);transform-origin:0 0;">437</div>
<div class="tk" style="left:461px;top:364.9px;width:3px;height:1px"></div>
<div id="cbd2" class="t" style="left:466.42px;top:361.00px;font-size:9.60px;transform:scaleX(0.940);transform-origin:0 0;">435</div>
<div class="tk" style="left:461px;top:388.9px;width:3px;height:1px"></div>
<div id="cbd3" class="t" style="left:466.42px;top:385.00px;font-size:9.60px;transform:scaleX(0.940);transform-origin:0 0;">433</div>
<div class="tk" style="left:461px;top:413.0px;width:3px;height:1px"></div>
<div id="cbd4" class="t" style="left:466.42px;top:409.00px;font-size:9.60px;transform:scaleX(0.940);transform-origin:0 0;">431</div>
<div class="tk" style="left:461px;top:437.1px;width:3px;height:1px"></div>
<div id="cbd5" class="t" style="left:466.42px;top:433.00px;font-size:9.60px;transform:scaleX(0.940);transform-origin:0 0;">429</div>
<div style="position:absolute;left:492.70px;top:377.90px;width:0;height:0;transform:rotate(-90deg);"><div id="cbld" class="t" style="left:-28.91px;top:-9.09px;font-size:10.70px;transform:scaleX(1.133);transform-origin:0 0;">CO₂ (ppm)</div></div>
<div class="tk" style="left:51px;top:47.9px;width:3px;height:1px"></div>
<div id="lata0" class="t" style="left:17.84px;top:46.00px;font-size:8.20px;transform:scaleX(1.046);transform-origin:0 0;">47.44°N</div>
<div class="tk" style="left:51px;top:88.1px;width:3px;height:1px"></div>
<div id="lata1" class="t" style="left:17.84px;top:86.00px;font-size:8.20px;transform:scaleX(1.046);transform-origin:0 0;">47.42°N</div>
<div class="tk" style="left:51px;top:128.3px;width:3px;height:1px"></div>
<div id="lata2" class="t" style="left:17.84px;top:126.00px;font-size:8.20px;transform:scaleX(1.046);transform-origin:0 0;">47.39°N</div>
<div class="tk" style="left:51px;top:168.5px;width:3px;height:1px"></div>
<div id="lata3" class="t" style="left:17.84px;top:166.00px;font-size:8.20px;transform:scaleX(1.046);transform-origin:0 0;">47.37°N</div>
<div class="tk" style="left:51px;top:208.7px;width:3px;height:1px"></div>
<div id="lata4" class="t" style="left:17.84px;top:207.00px;font-size:8.20px;transform:scaleX(1.046);transform-origin:0 0;">47.34°N</div>
<div class="tk" style="left:51px;top:248.9px;width:3px;height:1px"></div>
<div id="lata5" class="t" style="left:17.84px;top:247.00px;font-size:8.20px;transform:scaleX(1.046);transform-origin:0 0;">47.32°N</div>
<div style="position:absolute;left:13.10px;top:149.75px;width:0;height:0;transform:rotate(-90deg);"><div id="ylaba" class="t" style="left:-19.57px;top:-9.27px;font-size:10.90px;">Latitude</div></div>
<div class="tk" style="left:51px;top:276.9px;width:3px;height:1px"></div>
<div id="latc0" class="t" style="left:17.84px;top:275.00px;font-size:8.20px;transform:scaleX(1.046);transform-origin:0 0;">47.44°N</div>
<div class="tk" style="left:51px;top:317.1px;width:3px;height:1px"></div>
<div id="latc1" class="t" style="left:17.84px;top:315.00px;font-size:8.20px;transform:scaleX(1.046);transform-origin:0 0;">47.42°N</div>
<div class="tk" style="left:51px;top:357.3px;width:3px;height:1px"></div>
<div id="latc2" class="t" style="left:17.84px;top:355.00px;font-size:8.20px;transform:scaleX(1.046);transform-origin:0 0;">47.39°N</div>
<div class="tk" style="left:51px;top:397.5px;width:3px;height:1px"></div>
<div id="latc3" class="t" style="left:17.84px;top:395.00px;font-size:8.20px;transform:scaleX(1.046);transform-origin:0 0;">47.37°N</div>
<div class="tk" style="left:51px;top:437.7px;width:3px;height:1px"></div>
<div id="latc4" class="t" style="left:17.84px;top:436.00px;font-size:8.20px;transform:scaleX(1.046);transform-origin:0 0;">47.34°N</div>
<div class="tk" style="left:51px;top:477.9px;width:3px;height:1px"></div>
<div id="latc5" class="t" style="left:17.84px;top:476.00px;font-size:8.20px;transform:scaleX(1.046);transform-origin:0 0;">47.32°N</div>
<div style="position:absolute;left:13.10px;top:378.75px;width:0;height:0;transform:rotate(-90deg);"><div id="ylabc" class="t" style="left:-19.57px;top:-9.27px;font-size:10.90px;">Latitude</div></div>
<div class="tk" style="left:54.0px;top:479px;width:1px;height:3px"></div>
<div id="lonc0" class="t" style="left:41.71px;top:483.00px;font-size:8.50px;">8.44°E</div>
<div class="tk" style="left:89.0px;top:479px;width:1px;height:3px"></div>
<div id="lonc1" class="t" style="left:76.67px;top:483.00px;font-size:8.50px;">8.47°E</div>
<div class="tk" style="left:123.9px;top:479px;width:1px;height:3px"></div>
<div id="lonc2" class="t" style="left:111.63px;top:483.00px;font-size:8.50px;">8.50°E</div>
<div class="tk" style="left:158.9px;top:479px;width:1px;height:3px"></div>
<div id="lonc3" class="t" style="left:146.59px;top:483.00px;font-size:8.50px;">8.53°E</div>
<div class="tk" style="left:193.8px;top:479px;width:1px;height:3px"></div>
<div id="lonc4" class="t" style="left:181.55px;top:483.00px;font-size:8.50px;">8.56°E</div>
<div class="tk" style="left:228.8px;top:479px;width:1px;height:3px"></div>
<div id="lonc5" class="t" style="left:216.51px;top:483.00px;font-size:8.50px;">8.59°E</div>
<div id="xlabc" class="t" style="left:118.68px;top:494.00px;font-size:10.50px;transform:scaleX(0.990);transform-origin:0 0;">Longitude</div>
<div class="tk" style="left:275.0px;top:479px;width:1px;height:3px"></div>
<div id="lond0" class="t" style="left:262.71px;top:483.00px;font-size:8.50px;">8.44°E</div>
<div class="tk" style="left:310.0px;top:479px;width:1px;height:3px"></div>
<div id="lond1" class="t" style="left:297.67px;top:483.00px;font-size:8.50px;">8.47°E</div>
<div class="tk" style="left:344.9px;top:479px;width:1px;height:3px"></div>
<div id="lond2" class="t" style="left:332.63px;top:483.00px;font-size:8.50px;">8.50°E</div>
<div class="tk" style="left:379.9px;top:479px;width:1px;height:3px"></div>
<div id="lond3" class="t" style="left:367.59px;top:483.00px;font-size:8.50px;">8.53°E</div>
<div class="tk" style="left:414.8px;top:479px;width:1px;height:3px"></div>
<div id="lond4" class="t" style="left:402.55px;top:483.00px;font-size:8.50px;">8.56°E</div>
<div class="tk" style="left:449.8px;top:479px;width:1px;height:3px"></div>
<div id="lond5" class="t" style="left:437.51px;top:483.00px;font-size:8.50px;">8.59°E</div>
<div id="xlabd" class="t" style="left:339.68px;top:494.00px;font-size:10.50px;transform:scaleX(0.990);transform-origin:0 0;">Longitude</div>
<div id="copy" class="t" style="left:55.94px;top:514.00px;font-size:8.10px;transform:scaleX(0.968);transform-origin:0 0;">© OpenStreetMap contributors 2025. Distributed under the Open Data Commons Open Database License (ODbL) v1.0.</div>
<div style="position:absolute;left:106px;top:526.5px;width:315px;height:30px;box-sizing:border-box;border:1px solid #d9d9d9;border-radius:3px;background:rgba(255,255,255,0.8)"></div>
<div id="legt" class="t" style="left:226.56px;top:530.00px;font-size:10.90px;transform:scaleX(1.137);transform-origin:0 0;">Site category</div>
<svg width="500" height="563" style="position:absolute;left:0;top:0"><g fill="none" stroke="#262626" stroke-width="1"><path d="M117.6 545.2 L113.5 552.8 L121.7 552.8 Z"/><path d="M198.3 552.8 L194.2 545.2 L202.4 545.2 Z"/><path d="M262.2 543.6 L267.6 548.8 L262.2 554.0 L256.8 548.8 Z"/><circle cx="378.9" cy="549.1" r="3.9"/></g></svg>
<div id="leg1" class="t" style="left:132.31px;top:544.00px;font-size:9.50px;transform:scaleX(0.965);transform-origin:0 0;">Vegetated</div>
<div id="leg2" class="t" style="left:212.82px;top:544.00px;font-size:9.50px;transform:scaleX(0.946);transform-origin:0 0;">Traffic</div>
<div id="leg3" class="t" style="left:276.71px;top:544.00px;font-size:9.50px;transform:scaleX(0.978);transform-origin:0 0;">Vegetated + Traffic</div>
<div id="leg4" class="t" style="left:393.45px;top:544.00px;font-size:9.50px;transform:scaleX(0.957);transform-origin:0 0;">Other</div>
</body></html>
